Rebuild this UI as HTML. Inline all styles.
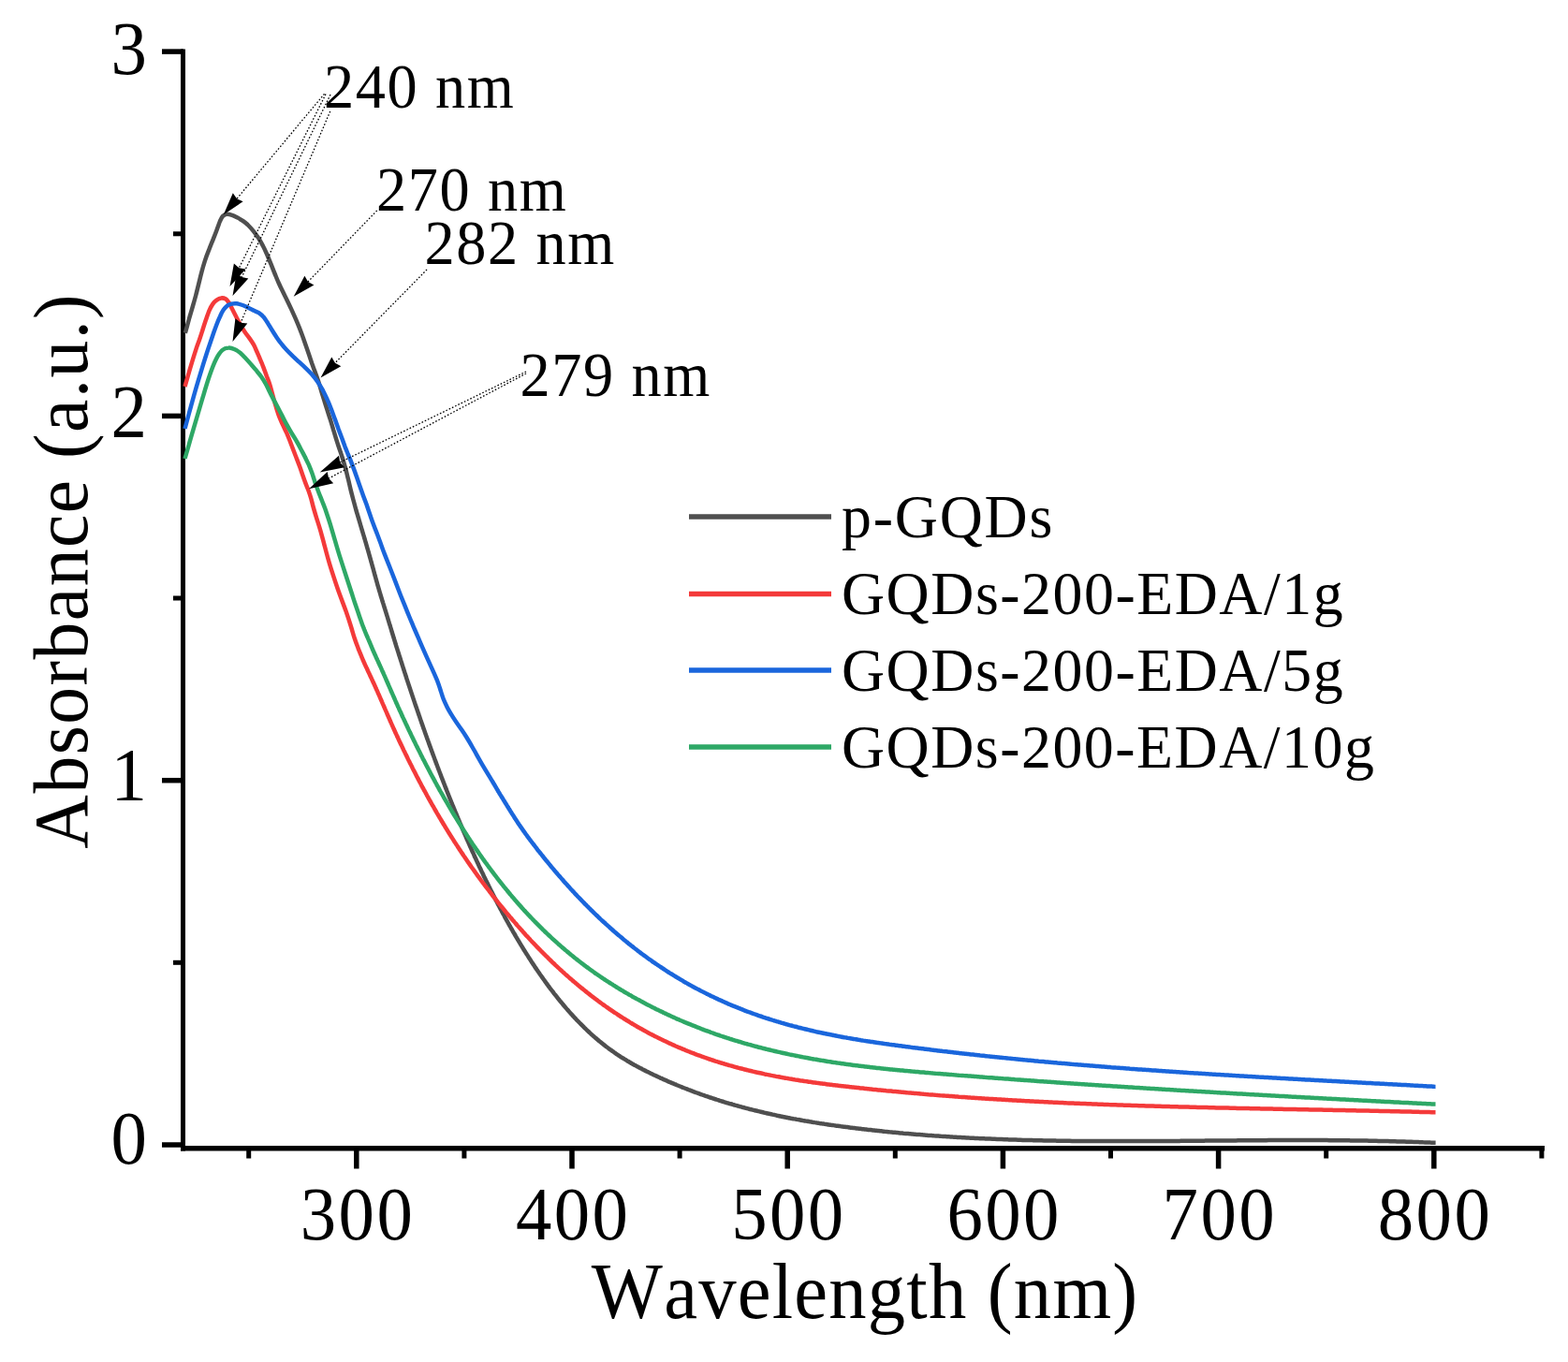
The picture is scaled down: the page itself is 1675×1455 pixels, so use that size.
<!DOCTYPE html>
<html><head><meta charset="utf-8"><title>UV-vis absorbance</title>
<style>
html,body{margin:0;padding:0;background:#fff;width:1675px;height:1455px;overflow:hidden}
svg{display:block}
text{font-family:"Liberation Serif","Times New Roman",serif;font-kerning:none;fill:#000}
.tk{font-size:80px}
.at{font-size:84px}
.ay{font-size:83px}
.lg{font-size:66.5px}
.an{font-size:67px}
.ar{stroke:#000;stroke-width:1.3;stroke-dasharray:1.6 2;fill:none}
</style></head><body>
<svg width="1675" height="1455" viewBox="0 0 1675 1455">
<rect width="1675" height="1455" fill="#fff"/>
<line x1="195.5" y1="52.5" x2="195.5" y2="1229.5" stroke="#000" stroke-width="5"/>
<line x1="193" y1="1226.7" x2="1650" y2="1226.7" stroke="#000" stroke-width="5.5"/>
<line x1="173" y1="1223.0" x2="196" y2="1223.0" stroke="#000" stroke-width="5.5"/>
<line x1="173" y1="833.7" x2="196" y2="833.7" stroke="#000" stroke-width="5.5"/>
<line x1="173" y1="444.4" x2="196" y2="444.4" stroke="#000" stroke-width="5.5"/>
<line x1="173" y1="55.1" x2="196" y2="55.1" stroke="#000" stroke-width="5.5"/>
<line x1="185" y1="1028.3" x2="196" y2="1028.3" stroke="#000" stroke-width="5"/>
<line x1="185" y1="639.0" x2="196" y2="639.0" stroke="#000" stroke-width="5"/>
<line x1="185" y1="249.8" x2="196" y2="249.8" stroke="#000" stroke-width="5"/>
<line x1="380.8" y1="1226" x2="380.8" y2="1248.5" stroke="#000" stroke-width="5.5"/>
<line x1="611.0" y1="1226" x2="611.0" y2="1248.5" stroke="#000" stroke-width="5.5"/>
<line x1="841.2" y1="1226" x2="841.2" y2="1248.5" stroke="#000" stroke-width="5.5"/>
<line x1="1071.4" y1="1226" x2="1071.4" y2="1248.5" stroke="#000" stroke-width="5.5"/>
<line x1="1301.6" y1="1226" x2="1301.6" y2="1248.5" stroke="#000" stroke-width="5.5"/>
<line x1="1531.8" y1="1226" x2="1531.8" y2="1248.5" stroke="#000" stroke-width="5.5"/>
<line x1="265.7" y1="1226" x2="265.7" y2="1237.5" stroke="#000" stroke-width="5"/>
<line x1="495.9" y1="1226" x2="495.9" y2="1237.5" stroke="#000" stroke-width="5"/>
<line x1="726.1" y1="1226" x2="726.1" y2="1237.5" stroke="#000" stroke-width="5"/>
<line x1="956.3" y1="1226" x2="956.3" y2="1237.5" stroke="#000" stroke-width="5"/>
<line x1="1186.5" y1="1226" x2="1186.5" y2="1237.5" stroke="#000" stroke-width="5"/>
<line x1="1416.7" y1="1226" x2="1416.7" y2="1237.5" stroke="#000" stroke-width="5"/>
<line x1="1646.9" y1="1226" x2="1646.9" y2="1237.5" stroke="#000" stroke-width="5"/>
<text transform="translate(157.00,78.50) scale(0.960,1)" text-anchor="end" textLength="41.67" lengthAdjust="spacing" class="tk">3</text>
<text transform="translate(157.00,467.00) scale(0.960,1)" text-anchor="end" textLength="41.67" lengthAdjust="spacing" class="tk">2</text>
<text transform="translate(157.00,855.00) scale(0.960,1)" text-anchor="end" textLength="41.67" lengthAdjust="spacing" class="tk">1</text>
<text transform="translate(157.00,1243.00) scale(0.960,1)" text-anchor="end" textLength="41.67" lengthAdjust="spacing" class="tk">0</text>
<text transform="translate(380.80,1323.50) scale(0.960,1)" text-anchor="middle" textLength="125.00" lengthAdjust="spacing" class="tk">300</text>
<text transform="translate(611.00,1323.50) scale(0.960,1)" text-anchor="middle" textLength="125.00" lengthAdjust="spacing" class="tk">400</text>
<text transform="translate(841.20,1323.50) scale(0.960,1)" text-anchor="middle" textLength="125.00" lengthAdjust="spacing" class="tk">500</text>
<text transform="translate(1071.40,1323.50) scale(0.960,1)" text-anchor="middle" textLength="125.00" lengthAdjust="spacing" class="tk">600</text>
<text transform="translate(1301.60,1323.50) scale(0.960,1)" text-anchor="middle" textLength="125.00" lengthAdjust="spacing" class="tk">700</text>
<text transform="translate(1531.80,1323.50) scale(0.960,1)" text-anchor="middle" textLength="125.00" lengthAdjust="spacing" class="tk">800</text>
<text transform="translate(923.50,1408.00) scale(0.960,1)" text-anchor="middle" textLength="607.68" lengthAdjust="spacing" class="at">Wavelength (nm)</text>
<text transform="translate(93,610.5) rotate(-90) translate(0.00,0.00) scale(0.960,1)" text-anchor="middle" textLength="616.96" lengthAdjust="spacing" class="at ay">Absorbance (a.u.)</text>
<path d="M197.8 355.8 C198.2 354.6 199.1 351.4 199.9 348.4 C200.7 345.5 201.7 341.7 202.7 338.1 C203.8 334.4 205.0 330.3 206.1 326.5 C207.2 322.8 208.2 319.2 209.2 315.5 C210.2 311.7 211.1 307.9 212.1 303.9 C213.1 299.9 214.1 295.6 215.2 291.4 C216.3 287.2 217.5 283.0 218.8 278.9 C220.1 274.8 221.6 270.9 223.2 266.9 C224.7 262.8 226.5 258.6 228.0 254.8 C229.5 251.1 230.9 247.5 232.0 244.4 C233.2 241.4 234.0 238.7 234.9 236.5 C235.9 234.3 236.8 232.2 238.0 230.9 C239.2 229.7 240.7 229.0 242.3 228.8 C244.0 228.6 246.0 229.2 247.9 229.8 C249.8 230.4 251.8 231.5 253.6 232.4 C255.4 233.4 257.1 234.4 258.9 235.6 C260.7 236.9 262.5 238.1 264.5 240.0 C266.4 241.9 268.7 244.3 270.7 246.8 C272.7 249.3 274.8 252.3 276.6 255.0 C278.3 257.8 279.8 260.4 281.2 263.3 C282.7 266.1 284.0 269.1 285.4 272.2 C286.8 275.4 288.1 278.8 289.5 282.2 C290.9 285.6 292.2 289.2 293.6 292.5 C295.0 295.9 296.3 299.2 297.7 302.3 C299.1 305.5 300.5 308.3 302.0 311.3 C303.4 314.3 305.0 317.3 306.5 320.4 C308.0 323.5 309.6 326.8 311.0 329.9 C312.5 333.1 313.9 336.3 315.4 339.6 C316.8 342.9 318.3 346.4 319.7 349.9 C321.1 353.4 322.5 357.3 323.8 360.7 C325.0 364.2 326.1 367.4 327.2 370.5 C328.3 373.6 329.3 376.5 330.3 379.4 C331.3 382.4 332.3 385.4 333.2 388.2 C334.2 390.9 335.1 393.5 336.0 395.9 C336.9 398.4 337.8 400.7 338.7 403.2 C339.6 405.7 340.5 408.3 341.3 411.1 C342.1 413.8 342.9 416.6 343.8 419.6 C344.7 422.5 345.6 425.6 346.6 428.6 C347.5 431.7 348.6 434.8 349.6 438.1 C350.6 441.4 351.8 445.0 352.9 448.4 C354.0 451.9 355.1 455.8 356.1 459.1 C357.2 462.4 358.0 465.5 358.9 468.3 C359.8 471.1 360.5 473.3 361.3 475.8 C362.1 478.3 363.0 480.7 363.9 483.3 C364.7 485.9 365.7 488.6 366.6 491.6 C367.5 494.7 368.4 497.9 369.4 501.4 C370.3 505.0 371.2 509.0 372.2 512.8 C373.1 516.6 374.0 520.7 374.9 524.4 C375.8 528.0 376.8 531.6 377.7 535.0 C378.6 538.4 379.5 541.6 380.4 545.0 C381.4 548.3 382.6 552.4 383.4 555.0 C384.1 557.6 384.6 559.0 385.0 560.5 C385.4 561.9 385.7 562.7 386.0 563.8 C386.3 564.9 386.7 566.0 387.0 567.1 C387.3 568.2 387.7 569.4 388.0 570.5 C388.3 571.6 388.7 572.7 389.0 573.8 C389.3 574.9 389.7 576.0 390.0 577.2 C390.3 578.3 390.7 579.5 391.0 580.6 C391.3 581.8 391.7 582.9 392.0 584.1 C392.3 585.2 392.7 586.4 393.0 587.5 C393.3 588.7 393.7 589.8 394.0 591.0 C394.3 592.2 394.7 593.4 395.0 594.6 C395.3 595.8 395.7 597.0 396.0 598.2 C396.3 599.4 396.7 600.6 397.0 601.8 C397.3 603.0 397.7 604.2 398.0 605.4 C398.3 606.6 398.7 607.8 399.0 609.0 C399.3 610.2 399.7 611.5 400.0 612.7 C400.3 613.9 400.7 615.1 401.0 616.3 C401.3 617.5 401.7 618.7 402.0 619.9 C402.3 621.1 402.7 622.3 403.0 623.5 C403.3 624.7 403.7 625.8 404.0 626.9 C404.3 628.1 404.7 629.2 405.0 630.4 C405.3 631.5 405.7 632.6 406.0 633.8 C406.3 634.9 406.7 636.0 407.0 637.1 C407.3 638.2 407.7 639.2 408.0 640.3 C408.3 641.4 408.7 642.5 409.0 643.6 C409.3 644.6 409.7 645.7 410.0 646.8 C410.3 647.9 410.7 649.0 411.0 650.0 C411.3 651.1 411.7 652.2 412.0 653.2 C412.3 654.3 412.7 655.4 413.0 656.5 C413.3 657.6 413.7 658.6 414.0 659.7 C414.3 660.8 414.7 661.9 415.0 663.0 C415.3 664.1 415.7 665.2 416.0 666.3 C416.3 667.3 416.7 668.4 417.0 669.5 C417.3 670.6 417.7 671.7 418.0 672.8 C418.3 673.9 418.7 675.0 419.0 676.1 C419.3 677.2 419.7 678.3 420.0 679.4 C420.3 680.5 420.7 681.6 421.0 682.7 C421.3 683.7 421.7 684.8 422.0 685.9 C422.3 687.0 422.7 688.1 423.0 689.2 C423.3 690.2 423.5 690.9 424.0 692.4 C424.5 693.9 425.4 696.8 425.9 698.3 C426.3 699.8 426.5 700.4 426.9 701.4 C427.2 702.5 427.5 703.5 427.9 704.6 C428.2 705.6 428.5 706.7 428.9 707.7 C429.2 708.8 429.5 709.8 429.9 710.9 C430.2 711.9 430.5 712.9 430.9 714.0 C431.2 715.0 431.5 716.0 431.9 717.1 C432.2 718.1 432.5 719.1 432.9 720.1 C433.2 721.2 433.5 722.2 433.9 723.2 C434.2 724.2 434.5 725.3 434.9 726.3 C435.2 727.3 435.5 728.3 435.9 729.3 C436.2 730.3 436.5 731.4 436.9 732.4 C437.2 733.4 437.5 734.4 437.9 735.4 C438.2 736.4 438.5 737.4 438.9 738.4 C439.2 739.4 439.5 740.4 439.9 741.4 C440.2 742.4 440.5 743.4 440.9 744.4 C441.2 745.4 441.5 746.4 441.9 747.4 C442.2 748.3 442.5 749.3 442.9 750.3 C443.2 751.3 443.5 752.3 443.9 753.3 C444.2 754.2 444.5 755.2 444.9 756.2 C445.2 757.2 445.5 758.1 445.9 759.1 C446.2 760.1 446.5 761.1 446.9 762.0 C447.2 763.0 447.5 764.0 447.9 764.9 C448.2 765.9 448.5 766.9 448.9 767.8 C449.2 768.8 449.5 769.7 449.9 770.7 C450.2 771.6 450.5 772.6 450.9 773.5 C451.2 774.5 451.5 775.4 451.9 776.4 C452.2 777.3 452.5 778.3 452.9 779.2 C453.2 780.2 453.5 781.1 453.9 782.1 C454.2 783.0 454.5 783.9 454.9 784.9 C455.2 785.8 455.5 786.7 455.9 787.7 C456.2 788.6 456.5 789.5 456.9 790.4 C457.2 791.4 457.5 792.3 457.9 793.2 C458.2 794.1 458.5 795.1 458.9 796.0 C459.2 796.9 459.5 797.8 459.9 798.7 C460.2 799.7 460.5 800.6 460.9 801.5 C461.2 802.4 461.5 803.3 461.9 804.2 C462.2 805.1 462.5 806.0 462.9 806.9 C463.2 807.8 463.5 808.7 463.9 809.6 C464.2 810.5 464.5 811.4 464.9 812.3 C465.2 813.2 465.5 814.1 465.9 815.0 C466.2 815.9 466.5 816.8 466.9 817.6 C467.2 818.5 467.5 819.4 467.9 820.3 C468.2 821.2 468.5 822.1 468.9 822.9 C469.2 823.8 469.5 824.7 469.9 825.6 C470.2 826.4 470.5 827.3 470.9 828.2 C471.2 829.1 471.5 829.9 471.9 830.8 C472.2 831.7 472.5 832.5 472.9 833.4 C473.2 834.2 473.5 835.1 473.9 836.0 C474.2 836.8 474.5 837.7 474.9 838.5 C475.2 839.4 475.5 840.2 475.9 841.1 C476.2 841.9 476.5 842.8 476.9 843.6 C477.2 844.5 477.5 845.3 477.9 846.2 C478.2 847.0 478.5 847.8 478.9 848.7 C479.2 849.5 479.5 850.4 479.9 851.2 C480.2 852.0 480.5 852.9 480.9 853.7 C481.2 854.5 481.5 855.3 481.9 856.2 C482.2 857.0 482.5 857.8 482.9 858.6 C483.2 859.5 483.5 860.3 483.9 861.1 C484.2 861.9 484.5 862.7 484.9 863.6 C485.2 864.4 485.5 865.2 485.9 866.0 C486.2 866.8 486.5 867.6 486.9 868.4 C487.2 869.2 487.5 870.0 487.9 870.8 C488.2 871.6 488.5 872.4 488.9 873.2 C489.2 874.0 489.5 874.8 489.9 875.6 C490.2 876.4 490.5 877.2 490.9 878.0 C491.2 878.8 491.5 879.6 491.9 880.4 C492.2 881.2 492.5 881.9 492.9 882.7 C493.2 883.5 493.5 884.3 493.9 885.1 C494.2 885.9 494.5 886.6 494.9 887.4 C495.2 888.2 495.5 889.0 495.9 889.7 C496.2 890.5 496.5 891.3 496.9 892.0 C497.2 892.8 497.5 893.5 497.9 894.3 C498.2 895.2 498.7 896.2 499.1 897.2 C499.5 898.1 499.9 899.1 500.4 900.0 C500.8 901.0 501.2 901.9 501.6 902.9 C502.0 903.8 502.4 904.7 502.9 905.7 C503.3 906.6 503.7 907.5 504.1 908.4 C504.5 909.4 504.9 910.3 505.4 911.2 C505.8 912.1 506.2 913.0 506.6 914.0 C507.0 914.9 507.4 915.8 507.9 916.7 C508.3 917.6 508.7 918.5 509.1 919.4 C509.5 920.3 509.9 921.2 510.4 922.1 C510.8 923.0 511.2 923.9 511.6 924.8 C512.0 925.7 512.4 926.5 512.9 927.4 C513.3 928.3 513.7 929.2 514.1 930.1 C514.5 931.0 514.9 931.8 515.4 932.7 C515.8 933.6 516.2 934.4 516.6 935.3 C517.0 936.2 517.4 937.0 517.9 937.9 C518.3 938.8 518.7 939.6 519.1 940.5 C519.5 941.3 519.9 942.2 520.4 943.0 C520.8 943.9 521.2 944.7 521.6 945.6 C522.0 946.4 522.4 947.2 522.9 948.1 C523.3 948.9 523.7 949.8 524.1 950.6 C524.5 951.4 524.9 952.2 525.4 953.1 C525.8 953.9 526.2 954.7 526.6 955.5 C527.0 956.4 527.4 957.2 527.9 958.0 C528.3 958.8 528.7 959.6 529.1 960.4 C529.5 961.2 529.9 962.0 530.4 962.8 C530.8 963.6 531.2 964.4 531.6 965.2 C532.0 966.0 532.4 966.8 532.9 967.6 C533.3 968.4 533.7 969.2 534.1 970.0 C534.5 970.8 534.9 971.6 535.4 972.3 C535.8 973.1 536.2 973.9 536.6 974.7 C537.0 975.4 537.4 976.2 537.9 977.0 C538.3 977.7 538.7 978.5 539.1 979.3 C539.5 980.0 539.9 980.8 540.4 981.6 C540.8 982.3 541.2 983.1 541.6 983.8 C542.0 984.6 542.4 985.3 542.9 986.1 C543.3 986.8 543.7 987.6 544.1 988.3 C544.5 989.0 544.9 989.8 545.4 990.5 C545.8 991.2 546.2 992.0 546.6 992.7 C547.0 993.4 547.4 994.1 547.9 994.9 C548.3 995.7 548.9 996.6 549.4 997.5 C549.9 998.3 550.4 999.2 550.9 1000.1 C551.4 1000.9 551.9 1001.8 552.4 1002.6 C552.9 1003.4 553.4 1004.3 553.9 1005.1 C554.4 1006.0 554.9 1006.8 555.4 1007.6 C555.9 1008.4 556.4 1009.3 556.9 1010.1 C557.4 1010.9 557.9 1011.7 558.4 1012.5 C558.9 1013.4 559.4 1014.2 559.9 1015.0 C560.4 1015.8 560.9 1016.6 561.4 1017.4 C561.9 1018.2 562.4 1019.0 562.9 1019.8 C563.4 1020.5 563.9 1021.3 564.4 1022.1 C564.9 1022.9 565.4 1023.7 565.9 1024.4 C566.4 1025.2 566.9 1026.0 567.4 1026.8 C567.9 1027.5 568.4 1028.3 568.9 1029.0 C569.4 1029.8 569.9 1030.6 570.4 1031.3 C570.9 1032.1 571.4 1032.8 571.9 1033.6 C572.4 1034.3 572.9 1035.0 573.4 1035.8 C573.9 1036.5 574.4 1037.2 574.9 1038.0 C575.4 1038.7 575.9 1039.4 576.4 1040.1 C576.9 1040.9 577.4 1041.6 577.9 1042.3 C578.4 1043.0 578.9 1043.7 579.4 1044.4 C579.9 1045.1 580.4 1045.8 580.9 1046.5 C581.4 1047.2 581.9 1047.9 582.4 1048.6 C582.9 1049.3 583.4 1050.0 583.9 1050.7 C584.4 1051.3 584.9 1052.0 585.4 1052.7 C585.9 1053.4 586.3 1054.0 586.9 1054.7 C587.4 1055.4 588.0 1056.3 588.6 1057.0 C589.2 1057.8 589.8 1058.6 590.4 1059.3 C590.9 1060.1 591.5 1060.8 592.1 1061.6 C592.7 1062.3 593.3 1063.1 593.9 1063.8 C594.4 1064.5 595.0 1065.3 595.6 1066.0 C596.2 1066.7 596.8 1067.5 597.4 1068.2 C597.9 1068.9 598.5 1069.6 599.1 1070.3 C599.7 1071.0 600.3 1071.7 600.9 1072.4 C601.4 1073.1 602.0 1073.8 602.6 1074.5 C603.2 1075.2 603.8 1075.9 604.4 1076.6 C604.9 1077.2 605.5 1077.9 606.1 1078.6 C606.7 1079.2 607.3 1079.9 607.9 1080.6 C608.4 1081.2 609.0 1081.9 609.6 1082.5 C610.2 1083.2 610.8 1083.8 611.4 1084.5 C611.9 1085.1 612.5 1085.7 613.1 1086.4 C613.7 1087.0 614.3 1087.6 614.9 1088.2 C615.4 1088.9 616.0 1089.5 616.6 1090.1 C617.2 1090.7 617.8 1091.3 618.4 1091.9 C618.9 1092.5 619.5 1093.1 620.1 1093.7 C620.7 1094.3 621.4 1095.0 622.1 1095.7 C622.8 1096.4 623.4 1097.0 624.1 1097.7 C624.8 1098.3 625.4 1099.0 626.1 1099.6 C626.8 1100.2 627.4 1100.9 628.1 1101.5 C628.8 1102.1 629.4 1102.7 630.1 1103.4 C630.8 1104.0 631.4 1104.6 632.1 1105.2 C632.8 1105.8 633.4 1106.4 634.1 1107.0 C634.8 1107.6 635.4 1108.1 636.1 1108.7 C636.8 1109.3 637.4 1109.9 638.1 1110.4 C638.8 1111.0 639.4 1111.6 640.1 1112.1 C640.8 1112.7 641.4 1113.2 642.1 1113.7 C642.8 1114.3 643.4 1114.8 644.1 1115.4 C644.8 1115.9 645.4 1116.4 646.1 1116.9 C646.8 1117.4 647.4 1118.0 648.1 1118.5 C648.8 1119.0 649.4 1119.4 650.1 1120.0 C650.8 1120.5 651.6 1121.1 652.4 1121.6 C653.1 1122.1 653.9 1122.7 654.6 1123.2 C655.4 1123.7 656.1 1124.3 656.9 1124.8 C657.6 1125.3 658.4 1125.8 659.1 1126.3 C659.9 1126.8 660.6 1127.3 661.4 1127.8 C662.1 1128.3 662.9 1128.8 663.6 1129.3 C664.4 1129.8 665.1 1130.2 665.9 1130.7 C666.6 1131.2 667.4 1131.6 668.1 1132.1 C668.9 1132.5 669.6 1133.0 670.4 1133.5 C671.1 1133.9 671.9 1134.3 672.6 1134.8 C673.4 1135.2 674.1 1135.7 674.9 1136.1 C675.6 1136.5 676.4 1136.9 677.1 1137.4 C677.9 1137.8 678.6 1138.2 679.4 1138.6 C680.1 1139.0 680.9 1139.4 681.6 1139.8 C682.4 1140.2 683.1 1140.6 683.9 1141.0 C684.6 1141.4 685.4 1141.8 686.1 1142.2 C686.9 1142.6 687.6 1143.0 688.4 1143.4 C689.1 1143.7 689.9 1144.1 690.6 1144.5 C691.4 1144.9 692.1 1145.2 692.9 1145.6 C693.6 1146.0 694.3 1146.3 695.1 1146.7 C695.9 1147.1 696.8 1147.5 697.6 1147.9 C698.4 1148.3 699.3 1148.7 700.1 1149.1 C700.9 1149.5 701.8 1149.9 702.6 1150.2 C703.4 1150.6 704.3 1151.0 705.1 1151.4 C705.9 1151.8 706.8 1152.1 707.6 1152.5 C708.4 1152.9 709.3 1153.3 710.1 1153.6 C710.9 1154.0 711.8 1154.4 712.6 1154.7 C713.4 1155.1 714.3 1155.5 715.1 1155.8 C715.9 1156.2 716.8 1156.5 717.6 1156.9 C718.4 1157.2 719.3 1157.6 720.1 1157.9 C720.9 1158.3 721.8 1158.6 722.6 1159.0 C723.4 1159.3 724.3 1159.7 725.1 1160.0 C725.9 1160.3 726.8 1160.7 727.6 1161.0 C728.4 1161.4 729.3 1161.7 730.1 1162.0 C730.9 1162.3 731.8 1162.7 732.6 1163.0 C733.4 1163.3 734.3 1163.6 735.1 1164.0 C735.9 1164.3 736.8 1164.6 737.6 1164.9 C738.4 1165.2 739.3 1165.6 740.1 1165.9 C740.9 1166.2 741.8 1166.5 742.6 1166.8 C743.4 1167.1 744.3 1167.4 745.1 1167.7 C745.9 1168.0 746.8 1168.3 747.6 1168.6 C748.4 1168.9 749.3 1169.2 750.1 1169.5 C750.9 1169.8 751.8 1170.1 752.6 1170.4 C753.4 1170.7 754.3 1170.9 755.1 1171.2 C755.9 1171.5 756.8 1171.8 757.6 1172.1 C758.4 1172.4 759.3 1172.6 760.1 1172.9 C760.9 1173.2 761.8 1173.5 762.6 1173.7 C763.4 1174.0 764.3 1174.3 765.1 1174.5 C765.9 1174.8 766.8 1175.1 767.6 1175.3 C768.4 1175.6 769.3 1175.9 770.1 1176.1 C770.9 1176.4 771.8 1176.6 772.6 1176.9 C773.4 1177.2 774.3 1177.4 775.1 1177.7 C775.9 1177.9 776.8 1178.2 777.6 1178.4 C778.4 1178.7 779.3 1178.9 780.1 1179.2 C780.9 1179.4 781.8 1179.6 782.6 1179.9 C783.4 1180.1 784.3 1180.4 785.1 1180.6 C785.9 1180.8 786.8 1181.1 787.6 1181.3 C788.4 1181.5 789.3 1181.8 790.1 1182.0 C790.9 1182.2 791.8 1182.4 792.6 1182.7 C793.4 1182.9 794.3 1183.1 795.1 1183.3 C795.9 1183.6 796.8 1183.8 797.6 1184.0 C798.4 1184.2 799.3 1184.4 800.1 1184.7 C800.9 1184.9 801.8 1185.1 802.6 1185.3 C803.4 1185.5 804.3 1185.7 805.1 1185.9 C805.9 1186.1 806.8 1186.3 807.6 1186.5 C808.4 1186.7 809.3 1186.9 810.1 1187.1 C810.9 1187.3 811.8 1187.5 812.6 1187.7 C813.4 1187.9 814.3 1188.1 815.1 1188.3 C815.9 1188.5 816.8 1188.7 817.6 1188.9 C818.4 1189.1 819.3 1189.3 820.1 1189.5 C820.9 1189.7 821.8 1189.9 822.6 1190.0 C823.4 1190.2 824.3 1190.4 825.1 1190.6 C825.9 1190.8 826.8 1191.0 827.6 1191.1 C828.4 1191.3 829.3 1191.5 830.1 1191.7 C830.9 1191.8 831.8 1192.0 832.6 1192.2 C833.4 1192.4 834.3 1192.5 835.1 1192.7 C835.9 1192.9 836.8 1193.0 837.6 1193.2 C838.4 1193.4 839.3 1193.5 840.1 1193.7 C840.9 1193.9 841.8 1194.0 842.6 1194.2 C843.4 1194.4 844.3 1194.5 845.1 1194.7 C845.9 1194.8 846.8 1195.0 847.6 1195.2 C848.4 1195.3 849.3 1195.5 850.1 1195.6 C850.9 1195.8 851.8 1195.9 852.6 1196.1 C853.4 1196.2 854.3 1196.4 855.1 1196.5 C855.9 1196.7 856.8 1196.8 857.6 1197.0 C858.4 1197.1 859.3 1197.3 860.1 1197.4 C860.9 1197.6 861.8 1197.7 862.6 1197.8 C863.4 1198.0 864.3 1198.1 865.1 1198.3 C865.9 1198.4 866.8 1198.5 867.6 1198.7 C868.4 1198.8 869.3 1198.9 870.1 1199.1 C870.9 1199.2 871.8 1199.3 872.6 1199.5 C873.4 1199.6 874.3 1199.7 875.1 1199.9 C875.9 1200.0 876.8 1200.1 877.6 1200.3 C878.4 1200.4 879.3 1200.5 880.1 1200.6 C880.9 1200.8 881.8 1200.9 882.6 1201.0 C883.4 1201.1 884.3 1201.3 885.1 1201.4 C885.9 1201.5 886.8 1201.6 887.6 1201.8 C888.4 1201.9 889.3 1202.0 890.1 1202.1 C890.9 1202.2 891.8 1202.3 892.6 1202.5 C893.4 1202.6 894.3 1202.7 895.1 1202.8 C895.9 1202.9 896.8 1203.0 897.6 1203.1 C898.4 1203.3 899.3 1203.4 900.1 1203.5 C900.9 1203.6 901.8 1203.7 902.6 1203.8 C903.4 1203.9 904.3 1204.0 905.1 1204.1 C905.9 1204.2 906.8 1204.4 907.6 1204.5 C908.4 1204.6 909.3 1204.7 910.1 1204.8 C910.9 1204.9 911.8 1205.0 912.6 1205.1 C913.4 1205.2 914.3 1205.3 915.1 1205.4 C915.9 1205.5 916.8 1205.6 917.6 1205.7 C918.4 1205.8 919.3 1205.9 920.1 1206.0 C920.9 1206.1 921.8 1206.2 922.6 1206.3 C923.4 1206.4 924.3 1206.5 925.1 1206.6 C925.9 1206.7 926.8 1206.8 927.6 1206.9 C928.4 1207.0 929.3 1207.1 930.1 1207.1 C930.9 1207.2 931.8 1207.3 932.6 1207.4 C933.4 1207.5 934.3 1207.6 935.1 1207.7 C935.9 1207.8 936.8 1207.9 937.6 1208.0 C938.4 1208.1 939.3 1208.1 940.1 1208.2 C940.9 1208.3 941.8 1208.4 942.6 1208.5 C943.4 1208.6 944.3 1208.7 945.1 1208.8 C945.9 1208.8 946.8 1208.9 947.6 1209.0 C948.4 1209.1 949.3 1209.2 950.1 1209.3 C950.9 1209.3 951.8 1209.4 952.6 1209.5 C953.4 1209.6 954.3 1209.7 955.1 1209.7 C955.9 1209.8 956.8 1209.9 957.6 1210.0 C958.4 1210.1 959.3 1210.1 960.1 1210.2 C960.9 1210.3 961.8 1210.4 962.6 1210.4 C963.4 1210.5 964.3 1210.6 965.1 1210.7 C965.9 1210.7 966.8 1210.8 967.6 1210.9 C968.4 1211.0 969.3 1211.0 970.1 1211.1 C970.9 1211.2 971.8 1211.3 972.6 1211.3 C973.4 1211.4 974.3 1211.5 975.1 1211.5 C975.9 1211.6 976.8 1211.7 977.6 1211.7 C978.4 1211.8 979.3 1211.9 980.1 1211.9 C980.9 1212.0 981.8 1212.1 982.6 1212.1 C983.4 1212.2 984.3 1212.3 985.1 1212.3 C985.9 1212.4 986.8 1212.5 987.6 1212.5 C988.4 1212.6 989.3 1212.7 990.1 1212.7 C990.9 1212.8 991.8 1212.9 992.6 1212.9 C993.4 1213.0 994.3 1213.0 995.1 1213.1 C995.9 1213.2 996.8 1213.2 997.6 1213.3 C998.4 1213.3 999.3 1213.4 1000.1 1213.5 C1000.9 1213.5 1001.8 1213.6 1002.6 1213.6 C1003.4 1213.7 1004.3 1213.7 1005.1 1213.8 C1005.9 1213.8 1006.8 1213.9 1007.6 1214.0 C1008.4 1214.0 1009.3 1214.1 1010.1 1214.1 C1010.9 1214.2 1011.8 1214.2 1012.6 1214.3 C1013.4 1214.3 1014.3 1214.4 1015.1 1214.4 C1015.9 1214.5 1016.8 1214.5 1017.6 1214.6 C1018.4 1214.6 1019.3 1214.7 1020.1 1214.7 C1020.9 1214.8 1021.8 1214.8 1022.6 1214.9 C1023.4 1214.9 1024.3 1215.0 1025.1 1215.0 C1025.9 1215.1 1026.8 1215.1 1027.6 1215.2 C1028.4 1215.2 1029.3 1215.3 1030.1 1215.3 C1030.9 1215.4 1031.8 1215.4 1032.6 1215.4 C1033.4 1215.5 1034.3 1215.5 1035.1 1215.6 C1035.9 1215.6 1036.8 1215.7 1037.6 1215.7 C1038.4 1215.8 1039.3 1215.8 1040.1 1215.8 C1040.9 1215.9 1041.8 1215.9 1042.6 1216.0 C1043.4 1216.0 1044.3 1216.0 1045.1 1216.1 C1045.9 1216.1 1046.8 1216.2 1047.6 1216.2 C1048.4 1216.2 1049.3 1216.3 1050.1 1216.3 C1050.9 1216.3 1051.8 1216.4 1052.6 1216.4 C1053.4 1216.5 1054.3 1216.5 1055.1 1216.5 C1055.9 1216.6 1056.8 1216.6 1057.6 1216.6 C1058.4 1216.7 1059.3 1216.7 1060.1 1216.7 C1060.9 1216.8 1061.8 1216.8 1062.6 1216.8 C1063.4 1216.9 1064.3 1216.9 1065.1 1216.9 C1065.9 1217.0 1066.8 1217.0 1067.6 1217.0 C1068.4 1217.1 1069.3 1217.1 1070.1 1217.1 C1070.9 1217.2 1071.8 1217.2 1072.6 1217.2 C1073.4 1217.2 1074.3 1217.3 1075.1 1217.3 C1075.9 1217.3 1076.8 1217.4 1077.6 1217.4 C1078.4 1217.4 1079.3 1217.4 1080.1 1217.5 C1080.9 1217.5 1081.8 1217.5 1082.6 1217.6 C1083.4 1217.6 1084.3 1217.6 1085.1 1217.6 C1085.9 1217.7 1086.8 1217.7 1087.6 1217.7 C1088.4 1217.7 1089.3 1217.8 1090.1 1217.8 C1090.9 1217.8 1091.8 1217.8 1092.6 1217.9 C1093.4 1217.9 1094.3 1217.9 1095.1 1217.9 C1095.9 1217.9 1096.8 1218.0 1097.6 1218.0 C1098.4 1218.0 1099.3 1218.0 1100.1 1218.1 C1100.9 1218.1 1101.8 1218.1 1102.6 1218.1 C1103.4 1218.1 1104.3 1218.2 1105.1 1218.2 C1105.9 1218.2 1106.8 1218.2 1107.6 1218.2 C1108.4 1218.3 1109.3 1218.3 1110.1 1218.3 C1110.9 1218.3 1111.8 1218.3 1112.6 1218.3 C1113.4 1218.4 1114.3 1218.4 1115.1 1218.4 C1115.9 1218.4 1116.8 1218.4 1117.6 1218.4 C1118.4 1218.5 1119.3 1218.5 1120.1 1218.5 C1120.9 1218.5 1121.8 1218.5 1122.6 1218.5 C1123.4 1218.6 1124.3 1218.6 1125.1 1218.6 C1125.9 1218.6 1126.8 1218.6 1127.6 1218.6 C1128.4 1218.6 1129.3 1218.7 1130.1 1218.7 C1130.9 1218.7 1131.8 1218.7 1132.6 1218.7 C1133.4 1218.7 1134.3 1218.7 1135.1 1218.7 C1135.9 1218.8 1136.8 1218.8 1137.6 1218.8 C1138.4 1218.8 1139.3 1218.8 1140.1 1218.8 C1140.9 1218.8 1141.8 1218.8 1142.6 1218.8 C1143.4 1218.9 1144.3 1218.9 1145.1 1218.9 C1145.9 1218.9 1146.8 1218.9 1147.6 1218.9 C1148.4 1218.9 1149.3 1218.9 1150.1 1218.9 C1150.9 1218.9 1151.8 1218.9 1152.6 1218.9 C1153.4 1219.0 1154.3 1219.0 1155.1 1219.0 C1155.9 1219.0 1156.8 1219.0 1157.6 1219.0 C1158.4 1219.0 1159.3 1219.0 1160.1 1219.0 C1160.9 1219.0 1161.8 1219.0 1162.6 1219.0 C1163.4 1219.0 1164.3 1219.0 1165.1 1219.0 C1165.9 1219.1 1166.8 1219.1 1167.6 1219.1 C1168.4 1219.1 1169.3 1219.1 1170.1 1219.1 C1170.9 1219.1 1171.8 1219.1 1172.6 1219.1 C1173.4 1219.1 1174.3 1219.1 1175.1 1219.1 C1175.9 1219.1 1176.8 1219.1 1177.6 1219.1 C1178.4 1219.1 1179.3 1219.1 1180.1 1219.1 C1180.9 1219.1 1181.8 1219.1 1182.6 1219.1 C1183.4 1219.1 1184.3 1219.1 1185.1 1219.1 C1185.9 1219.1 1186.8 1219.1 1187.6 1219.1 C1188.4 1219.1 1189.3 1219.1 1190.1 1219.1 C1190.9 1219.1 1191.8 1219.1 1192.6 1219.1 C1193.4 1219.1 1194.3 1219.1 1195.1 1219.1 C1195.9 1219.1 1196.8 1219.1 1197.6 1219.1 C1198.4 1219.1 1199.3 1219.1 1200.1 1219.1 C1200.9 1219.1 1201.8 1219.1 1202.6 1219.1 C1203.4 1219.1 1204.3 1219.1 1205.1 1219.1 C1205.9 1219.1 1206.8 1219.1 1207.6 1219.1 C1208.4 1219.1 1209.3 1219.1 1210.1 1219.1 C1210.9 1219.1 1211.8 1219.1 1212.6 1219.1 C1213.4 1219.1 1214.3 1219.1 1215.1 1219.1 C1215.9 1219.1 1216.8 1219.1 1217.6 1219.1 C1218.4 1219.1 1219.3 1219.1 1220.1 1219.1 C1220.9 1219.1 1221.8 1219.1 1222.6 1219.1 C1223.4 1219.1 1224.3 1219.1 1225.1 1219.1 C1225.9 1219.1 1226.8 1219.1 1227.6 1219.1 C1228.4 1219.1 1229.3 1219.1 1230.1 1219.1 C1230.9 1219.0 1231.8 1219.0 1232.6 1219.0 C1233.4 1219.0 1234.3 1219.0 1235.1 1219.0 C1235.9 1219.0 1236.8 1219.0 1237.6 1219.0 C1238.4 1219.0 1239.3 1219.0 1240.1 1219.0 C1240.9 1219.0 1241.8 1219.0 1242.6 1219.0 C1243.4 1219.0 1244.3 1219.0 1245.1 1219.0 C1245.9 1219.0 1246.8 1219.0 1247.6 1218.9 C1248.4 1218.9 1249.3 1218.9 1250.1 1218.9 C1250.9 1218.9 1251.8 1218.9 1252.6 1218.9 C1253.4 1218.9 1254.3 1218.9 1255.1 1218.9 C1255.9 1218.9 1256.8 1218.9 1257.6 1218.9 C1258.4 1218.9 1259.3 1218.9 1260.1 1218.9 C1260.9 1218.9 1261.8 1218.8 1262.6 1218.8 C1263.4 1218.8 1264.3 1218.8 1265.1 1218.8 C1265.9 1218.8 1266.8 1218.8 1267.6 1218.8 C1268.4 1218.8 1269.3 1218.8 1270.1 1218.8 C1270.9 1218.8 1271.8 1218.8 1272.6 1218.8 C1273.4 1218.8 1274.3 1218.7 1275.1 1218.7 C1275.9 1218.7 1276.8 1218.7 1277.6 1218.7 C1278.4 1218.7 1279.3 1218.7 1280.1 1218.7 C1280.9 1218.7 1281.8 1218.7 1282.6 1218.7 C1283.4 1218.7 1284.3 1218.7 1285.1 1218.7 C1285.9 1218.7 1286.8 1218.6 1287.6 1218.6 C1288.4 1218.6 1289.3 1218.6 1290.1 1218.6 C1290.9 1218.6 1291.8 1218.6 1292.6 1218.6 C1293.4 1218.6 1294.3 1218.6 1295.1 1218.6 C1295.9 1218.6 1296.8 1218.6 1297.6 1218.6 C1298.4 1218.5 1299.3 1218.5 1300.1 1218.5 C1300.9 1218.5 1301.8 1218.5 1302.6 1218.5 C1303.4 1218.5 1304.3 1218.5 1305.1 1218.5 C1305.9 1218.5 1306.8 1218.5 1307.6 1218.5 C1308.4 1218.5 1309.3 1218.5 1310.1 1218.4 C1310.9 1218.4 1311.8 1218.4 1312.6 1218.4 C1313.4 1218.4 1314.3 1218.4 1315.1 1218.4 C1315.9 1218.4 1316.8 1218.4 1317.6 1218.4 C1318.4 1218.4 1319.3 1218.4 1320.1 1218.4 C1320.9 1218.4 1321.8 1218.4 1322.6 1218.3 C1323.4 1218.3 1324.3 1218.3 1325.1 1218.3 C1325.9 1218.3 1326.8 1218.3 1327.6 1218.3 C1328.4 1218.3 1329.3 1218.3 1330.1 1218.3 C1330.9 1218.3 1331.8 1218.3 1332.6 1218.3 C1333.4 1218.3 1334.3 1218.3 1335.1 1218.3 C1335.9 1218.3 1336.8 1218.2 1337.6 1218.2 C1338.4 1218.2 1339.3 1218.2 1340.1 1218.2 C1340.9 1218.2 1341.8 1218.2 1342.6 1218.2 C1343.4 1218.2 1344.3 1218.2 1345.1 1218.2 C1345.9 1218.2 1346.8 1218.2 1347.6 1218.2 C1348.4 1218.2 1349.3 1218.2 1350.1 1218.2 C1350.9 1218.2 1351.8 1218.2 1352.6 1218.2 C1353.4 1218.1 1354.3 1218.1 1355.1 1218.1 C1355.9 1218.1 1356.8 1218.1 1357.6 1218.1 C1358.4 1218.1 1359.3 1218.1 1360.1 1218.1 C1360.9 1218.1 1361.8 1218.1 1362.6 1218.1 C1363.4 1218.1 1364.3 1218.1 1365.1 1218.1 C1365.9 1218.1 1366.8 1218.1 1367.6 1218.1 C1368.4 1218.1 1369.3 1218.1 1370.1 1218.1 C1370.9 1218.1 1371.8 1218.1 1372.6 1218.1 C1373.4 1218.1 1374.3 1218.1 1375.1 1218.1 C1375.9 1218.1 1376.8 1218.1 1377.6 1218.1 C1378.4 1218.1 1379.3 1218.1 1380.1 1218.1 C1380.9 1218.1 1381.8 1218.1 1382.6 1218.1 C1383.4 1218.1 1384.3 1218.1 1385.1 1218.1 C1385.9 1218.1 1386.8 1218.1 1387.6 1218.1 C1388.4 1218.1 1389.3 1218.1 1390.1 1218.1 C1390.9 1218.1 1391.8 1218.1 1392.6 1218.1 C1393.4 1218.1 1394.3 1218.1 1395.1 1218.1 C1395.9 1218.1 1396.8 1218.1 1397.6 1218.1 C1398.4 1218.1 1399.3 1218.1 1400.1 1218.1 C1400.9 1218.1 1401.8 1218.1 1402.6 1218.1 C1403.4 1218.1 1404.3 1218.1 1405.1 1218.1 C1405.9 1218.1 1406.8 1218.1 1407.6 1218.1 C1408.4 1218.1 1409.3 1218.1 1410.1 1218.1 C1410.9 1218.1 1411.8 1218.1 1412.6 1218.1 C1413.4 1218.1 1414.3 1218.1 1415.1 1218.1 C1415.9 1218.1 1416.8 1218.1 1417.6 1218.1 C1418.4 1218.1 1419.3 1218.1 1420.1 1218.2 C1420.9 1218.2 1421.8 1218.2 1422.6 1218.2 C1423.4 1218.2 1424.3 1218.2 1425.1 1218.2 C1425.9 1218.2 1426.8 1218.2 1427.6 1218.2 C1428.4 1218.2 1429.3 1218.2 1430.1 1218.2 C1430.9 1218.2 1431.8 1218.2 1432.6 1218.3 C1433.4 1218.3 1434.3 1218.3 1435.1 1218.3 C1435.9 1218.3 1436.8 1218.3 1437.6 1218.3 C1438.4 1218.3 1439.3 1218.3 1440.1 1218.3 C1440.9 1218.3 1441.8 1218.4 1442.6 1218.4 C1443.4 1218.4 1444.3 1218.4 1445.1 1218.4 C1445.9 1218.4 1446.8 1218.4 1447.6 1218.4 C1448.4 1218.4 1449.3 1218.4 1450.1 1218.5 C1450.9 1218.5 1451.8 1218.5 1452.6 1218.5 C1453.4 1218.5 1454.3 1218.5 1455.1 1218.5 C1455.9 1218.5 1456.8 1218.6 1457.6 1218.6 C1458.4 1218.6 1459.3 1218.6 1460.1 1218.6 C1460.9 1218.6 1461.8 1218.6 1462.6 1218.7 C1463.4 1218.7 1464.3 1218.7 1465.1 1218.7 C1465.9 1218.7 1466.8 1218.7 1467.6 1218.8 C1468.4 1218.8 1469.3 1218.8 1470.1 1218.8 C1470.9 1218.8 1471.8 1218.8 1472.6 1218.9 C1473.4 1218.9 1474.3 1218.9 1475.1 1218.9 C1475.9 1218.9 1476.8 1219.0 1477.6 1219.0 C1478.4 1219.0 1479.3 1219.0 1480.1 1219.0 C1480.9 1219.1 1481.8 1219.1 1482.6 1219.1 C1483.4 1219.1 1484.3 1219.1 1485.1 1219.2 C1485.9 1219.2 1486.8 1219.2 1487.6 1219.2 C1488.4 1219.2 1489.3 1219.3 1490.1 1219.3 C1490.9 1219.3 1491.8 1219.3 1492.6 1219.4 C1493.4 1219.4 1494.3 1219.4 1495.1 1219.4 C1495.9 1219.5 1496.8 1219.5 1497.6 1219.5 C1498.4 1219.5 1499.3 1219.6 1500.1 1219.6 C1500.9 1219.6 1501.8 1219.6 1502.6 1219.7 C1503.4 1219.7 1504.3 1219.7 1505.1 1219.7 C1505.9 1219.8 1506.8 1219.8 1507.6 1219.8 C1508.4 1219.9 1509.3 1219.9 1510.1 1219.9 C1510.9 1219.9 1511.8 1220.0 1512.6 1220.0 C1513.4 1220.0 1514.3 1220.1 1515.1 1220.1 C1515.9 1220.1 1516.8 1220.2 1517.6 1220.2 C1518.4 1220.2 1519.3 1220.2 1520.1 1220.3 C1520.9 1220.3 1521.8 1220.3 1522.6 1220.4 C1523.4 1220.4 1524.3 1220.4 1525.1 1220.5 C1525.9 1220.5 1526.8 1220.6 1527.6 1220.6 C1528.4 1220.6 1529.3 1220.7 1530.1 1220.7 C1530.9 1220.7 1532.0 1220.8 1532.6 1220.8 C1533.2 1220.8 1533.4 1220.8 1533.6 1220.8" fill="none" stroke="#4f4f4f" stroke-width="4.5" stroke-linejoin="round"/>
<path d="M197.5 413.0 C198.6 409.3 201.9 397.4 203.9 390.8 C205.9 384.1 207.9 377.8 209.4 373.1 C210.9 368.5 211.9 366.2 213.0 363.0 C214.1 359.8 214.9 357.4 216.0 353.9 C217.1 350.4 218.5 345.9 219.8 342.1 C221.1 338.4 222.4 334.3 223.7 331.4 C225.0 328.4 226.2 326.3 227.4 324.6 C228.7 322.8 230.0 321.6 231.4 320.6 C232.9 319.6 234.6 318.7 236.2 318.5 C237.8 318.2 239.5 318.5 240.9 319.2 C242.3 320.0 243.3 321.5 244.4 323.1 C245.6 324.8 246.4 326.9 247.5 329.1 C248.7 331.4 249.9 333.8 251.3 336.5 C252.7 339.2 254.2 342.2 255.9 345.1 C257.5 348.0 259.3 351.2 261.1 354.0 C262.9 356.8 265.1 359.3 266.7 361.6 C268.4 364.0 269.9 366.1 271.1 368.3 C272.3 370.5 273.1 372.7 274.1 375.0 C275.1 377.3 276.1 379.6 277.1 381.9 C278.0 384.2 279.1 386.4 280.0 388.7 C280.9 391.0 281.7 393.3 282.6 395.6 C283.5 397.9 284.3 400.2 285.1 402.5 C286.0 404.7 286.8 406.6 287.6 409.0 C288.4 411.4 289.1 413.6 290.0 417.0 C290.9 420.3 292.0 424.8 293.2 429.0 C294.4 433.3 295.8 438.3 297.3 442.4 C298.7 446.5 300.4 450.0 301.9 453.4 C303.4 456.8 305.0 459.8 306.4 462.9 C307.7 466.0 308.9 469.1 310.1 472.1 C311.3 475.2 312.4 478.3 313.6 481.3 C314.7 484.3 315.9 487.2 317.0 490.1 C318.1 492.9 319.2 495.8 320.2 498.6 C321.3 501.5 322.2 504.4 323.2 507.2 C324.2 510.1 325.2 513.0 326.3 515.9 C327.3 518.7 328.6 521.4 329.6 524.2 C330.6 527.0 331.5 529.7 332.4 532.8 C333.2 535.8 333.9 539.1 334.9 542.5 C335.9 546.0 337.0 549.8 338.2 553.6 C339.4 557.4 340.6 561.0 341.9 565.4 C343.2 569.8 344.2 573.7 345.9 579.8 C347.5 585.8 349.4 593.5 351.9 601.8 C354.4 610.1 358.0 620.9 360.9 629.5 C363.9 638.0 367.2 646.3 369.6 653.0 C371.9 659.6 373.5 664.6 375.0 669.5 C376.5 674.3 377.5 678.1 378.7 681.8 C379.9 685.6 381.3 689.1 382.4 691.9 C383.4 694.7 384.4 696.9 385.0 698.4 C385.6 699.9 385.7 700.1 386.0 700.9 C386.3 701.7 386.7 702.5 387.0 703.3 C387.3 704.1 387.7 704.8 388.0 705.6 C388.3 706.4 388.7 707.2 389.0 707.9 C389.3 708.7 389.7 709.5 390.0 710.2 C390.3 710.9 390.7 711.6 391.0 712.3 C391.3 713.0 391.7 713.7 392.0 714.4 C392.3 715.1 392.7 715.8 393.0 716.6 C393.3 717.3 393.7 718.0 394.0 718.7 C394.3 719.4 394.7 720.1 395.0 720.8 C395.3 721.5 395.7 722.2 396.0 723.0 C396.3 723.7 396.7 724.4 397.0 725.1 C397.3 725.8 397.7 726.6 398.0 727.3 C398.3 728.0 398.7 728.7 399.0 729.5 C399.3 730.2 399.7 730.9 400.0 731.6 C400.3 732.4 400.7 733.1 401.0 733.9 C401.3 734.6 401.7 735.3 402.0 736.1 C402.3 736.8 402.7 737.6 403.0 738.3 C403.3 739.1 403.7 739.8 404.0 740.6 C404.3 741.3 404.7 742.1 405.0 742.8 C405.3 743.6 405.7 744.4 406.0 745.1 C406.3 745.9 406.7 746.7 407.0 747.5 C407.3 748.2 407.7 749.0 408.0 749.8 C408.3 750.5 408.7 751.3 409.0 752.1 C409.3 752.8 409.7 753.6 410.0 754.4 C410.3 755.2 410.7 755.9 411.0 756.7 C411.3 757.5 411.7 758.2 412.0 759.0 C412.3 759.8 412.7 760.5 413.0 761.3 C413.3 762.1 413.7 762.8 414.0 763.6 C414.3 764.4 414.7 765.1 415.0 765.9 C415.3 766.7 415.7 767.4 416.0 768.2 C416.3 768.9 416.7 769.7 417.0 770.5 C417.3 771.2 417.7 772.0 418.0 772.7 C418.3 773.5 418.7 774.2 419.0 775.0 C419.3 775.7 419.7 776.5 420.0 777.2 C420.3 778.0 420.7 778.7 421.0 779.4 C421.3 780.2 421.7 780.9 422.0 781.6 C422.3 782.4 422.7 783.1 423.0 783.8 C423.3 784.5 423.7 785.3 424.0 786.0 C424.3 786.7 424.6 787.3 425.0 788.1 C425.4 789.0 425.8 789.9 426.2 790.8 C426.7 791.7 427.1 792.6 427.5 793.5 C427.9 794.4 428.3 795.2 428.8 796.1 C429.2 797.0 429.6 797.9 430.0 798.7 C430.4 799.6 430.8 800.5 431.2 801.4 C431.7 802.2 432.1 803.1 432.5 803.9 C432.9 804.8 433.3 805.7 433.8 806.5 C434.2 807.4 434.6 808.2 435.0 809.1 C435.4 809.9 435.8 810.8 436.2 811.6 C436.7 812.4 437.1 813.3 437.5 814.1 C437.9 815.0 438.3 815.8 438.8 816.6 C439.2 817.5 439.6 818.3 440.0 819.1 C440.4 819.9 440.8 820.8 441.2 821.6 C441.7 822.4 442.1 823.2 442.5 824.0 C442.9 824.8 443.3 825.7 443.8 826.5 C444.2 827.3 444.6 828.1 445.0 828.9 C445.4 829.7 445.8 830.5 446.2 831.3 C446.7 832.1 447.1 832.9 447.5 833.7 C447.9 834.5 448.3 835.3 448.8 836.1 C449.2 836.8 449.6 837.6 450.0 838.4 C450.4 839.2 450.8 840.0 451.2 840.7 C451.7 841.5 452.1 842.3 452.5 843.1 C452.9 843.8 453.3 844.6 453.8 845.4 C454.2 846.1 454.6 846.9 455.0 847.7 C455.4 848.4 455.8 849.2 456.2 850.0 C456.7 850.7 457.1 851.5 457.5 852.2 C457.9 853.0 458.3 853.7 458.8 854.5 C459.2 855.2 459.6 856.0 460.0 856.7 C460.4 857.4 460.8 858.2 461.2 858.9 C461.7 859.7 462.1 860.4 462.5 861.1 C462.9 861.9 463.3 862.6 463.8 863.3 C464.2 864.0 464.5 864.7 465.0 865.5 C465.5 866.3 466.0 867.2 466.5 868.1 C467.0 868.9 467.5 869.8 468.0 870.6 C468.5 871.5 469.0 872.3 469.5 873.2 C470.0 874.0 470.5 874.9 471.0 875.7 C471.5 876.6 472.0 877.4 472.5 878.2 C473.0 879.1 473.5 879.9 474.0 880.7 C474.5 881.5 475.0 882.4 475.5 883.2 C476.0 884.0 476.5 884.8 477.0 885.6 C477.5 886.5 478.0 887.3 478.5 888.1 C479.0 888.9 479.5 889.7 480.0 890.5 C480.5 891.3 481.0 892.1 481.5 892.9 C482.0 893.7 482.5 894.5 483.0 895.3 C483.5 896.0 484.0 896.8 484.5 897.6 C485.0 898.4 485.5 899.2 486.0 900.0 C486.5 900.7 487.0 901.5 487.5 902.3 C488.0 903.0 488.5 903.8 489.0 904.6 C489.5 905.3 490.0 906.1 490.5 906.9 C491.0 907.6 491.5 908.4 492.0 909.1 C492.5 909.9 493.0 910.6 493.5 911.4 C494.0 912.1 494.5 912.9 495.0 913.6 C495.5 914.4 496.0 915.1 496.5 915.8 C497.0 916.6 497.5 917.3 498.0 918.0 C498.5 918.8 499.0 919.5 499.5 920.2 C500.0 921.0 500.5 921.7 501.0 922.4 C501.5 923.1 502.0 923.8 502.5 924.6 C503.0 925.3 503.5 926.0 504.0 926.7 C504.5 927.4 505.0 928.1 505.5 928.8 C506.0 929.5 506.5 930.2 507.0 930.9 C507.5 931.6 508.0 932.3 508.5 933.0 C509.0 933.7 509.5 934.4 510.0 935.1 C510.5 935.8 511.0 936.5 511.5 937.1 C512.0 937.8 512.5 938.5 513.0 939.2 C513.5 939.9 514.0 940.6 514.5 941.2 C515.0 941.9 515.5 942.6 516.0 943.2 C516.5 943.9 517.0 944.5 517.5 945.2 C518.0 946.0 518.7 946.8 519.2 947.6 C519.8 948.3 520.4 949.1 521.0 949.9 C521.6 950.6 522.2 951.4 522.8 952.2 C523.3 952.9 523.9 953.7 524.5 954.4 C525.1 955.2 525.7 955.9 526.2 956.7 C526.8 957.4 527.4 958.2 528.0 958.9 C528.6 959.6 529.2 960.4 529.8 961.1 C530.3 961.9 530.9 962.6 531.5 963.3 C532.1 964.1 532.7 964.8 533.2 965.5 C533.8 966.2 534.4 967.0 535.0 967.7 C535.6 968.4 536.2 969.1 536.8 969.8 C537.3 970.5 537.9 971.2 538.5 972.0 C539.1 972.7 539.7 973.4 540.2 974.1 C540.8 974.8 541.4 975.5 542.0 976.2 C542.6 976.9 543.2 977.6 543.8 978.3 C544.3 979.0 544.9 979.6 545.5 980.3 C546.1 981.0 546.7 981.7 547.2 982.4 C547.8 983.1 548.4 983.7 549.0 984.4 C549.6 985.1 550.2 985.8 550.8 986.4 C551.3 987.1 551.9 987.8 552.5 988.5 C553.1 989.1 553.7 989.8 554.2 990.4 C554.8 991.1 555.4 991.8 556.0 992.4 C556.6 993.1 557.2 993.7 557.8 994.4 C558.3 995.0 558.9 995.7 559.5 996.3 C560.1 997.0 560.7 997.6 561.2 998.3 C561.8 998.9 562.4 999.5 563.0 1000.2 C563.6 1000.8 564.2 1001.4 564.8 1002.1 C565.3 1002.7 565.9 1003.3 566.5 1004.0 C567.1 1004.6 567.7 1005.2 568.2 1005.8 C568.8 1006.4 569.4 1007.1 570.0 1007.7 C570.6 1008.3 571.2 1008.9 571.8 1009.5 C572.3 1010.1 572.9 1010.7 573.5 1011.3 C574.1 1011.9 574.7 1012.5 575.2 1013.1 C575.8 1013.7 576.4 1014.3 577.0 1014.9 C577.6 1015.6 578.3 1016.3 579.0 1017.0 C579.7 1017.6 580.3 1018.3 581.0 1019.0 C581.7 1019.6 582.3 1020.3 583.0 1021.0 C583.7 1021.6 584.3 1022.3 585.0 1022.9 C585.7 1023.6 586.3 1024.3 587.0 1024.9 C587.7 1025.6 588.3 1026.2 589.0 1026.8 C589.7 1027.5 590.3 1028.1 591.0 1028.8 C591.7 1029.4 592.3 1030.0 593.0 1030.7 C593.7 1031.3 594.3 1031.9 595.0 1032.5 C595.7 1033.2 596.3 1033.8 597.0 1034.4 C597.7 1035.0 598.3 1035.6 599.0 1036.2 C599.7 1036.8 600.3 1037.5 601.0 1038.1 C601.7 1038.7 602.3 1039.3 603.0 1039.9 C603.7 1040.5 604.3 1041.1 605.0 1041.7 C605.7 1042.2 606.3 1042.8 607.0 1043.4 C607.7 1044.0 608.3 1044.6 609.0 1045.2 C609.7 1045.8 610.3 1046.3 611.0 1046.9 C611.7 1047.5 612.3 1048.1 613.0 1048.6 C613.7 1049.2 614.3 1049.8 615.0 1050.3 C615.7 1050.9 616.3 1051.4 617.0 1052.0 C617.7 1052.6 618.3 1053.1 619.0 1053.7 C619.7 1054.2 620.3 1054.8 621.0 1055.3 C621.7 1055.9 622.3 1056.4 623.0 1056.9 C623.7 1057.5 624.3 1058.0 625.0 1058.5 C625.7 1059.1 626.3 1059.6 627.0 1060.1 C627.7 1060.7 628.3 1061.2 629.0 1061.7 C629.7 1062.2 630.3 1062.7 631.0 1063.3 C631.7 1063.8 632.3 1064.3 633.0 1064.8 C633.7 1065.3 634.3 1065.8 635.0 1066.3 C635.7 1066.8 636.3 1067.3 637.0 1067.8 C637.7 1068.4 638.5 1069.0 639.2 1069.5 C640.0 1070.1 640.8 1070.6 641.5 1071.2 C642.2 1071.7 643.0 1072.3 643.8 1072.8 C644.5 1073.3 645.2 1073.9 646.0 1074.4 C646.8 1074.9 647.5 1075.5 648.2 1076.0 C649.0 1076.5 649.8 1077.0 650.5 1077.6 C651.2 1078.1 652.0 1078.6 652.8 1079.1 C653.5 1079.6 654.2 1080.1 655.0 1080.6 C655.8 1081.2 656.5 1081.7 657.2 1082.2 C658.0 1082.7 658.8 1083.2 659.5 1083.6 C660.2 1084.1 661.0 1084.6 661.8 1085.1 C662.5 1085.6 663.2 1086.1 664.0 1086.6 C664.8 1087.0 665.5 1087.5 666.2 1088.0 C667.0 1088.5 667.8 1088.9 668.5 1089.4 C669.2 1089.9 670.0 1090.3 670.8 1090.8 C671.5 1091.2 672.2 1091.7 673.0 1092.2 C673.8 1092.6 674.5 1093.1 675.2 1093.5 C676.0 1094.0 676.8 1094.4 677.5 1094.8 C678.2 1095.3 679.0 1095.7 679.8 1096.2 C680.5 1096.6 681.2 1097.0 682.0 1097.5 C682.8 1097.9 683.5 1098.3 684.2 1098.7 C685.0 1099.2 685.8 1099.6 686.5 1100.0 C687.2 1100.4 688.0 1100.8 688.8 1101.2 C689.5 1101.6 690.2 1102.1 691.0 1102.5 C691.8 1102.9 692.5 1103.3 693.2 1103.7 C694.0 1104.1 694.8 1104.5 695.5 1104.9 C696.2 1105.2 697.0 1105.6 697.8 1106.0 C698.5 1106.4 699.2 1106.8 700.0 1107.2 C700.8 1107.6 701.5 1107.9 702.2 1108.3 C703.0 1108.7 703.8 1109.1 704.5 1109.4 C705.2 1109.8 706.0 1110.2 706.8 1110.5 C707.5 1110.9 708.4 1111.4 709.2 1111.7 C710.1 1112.1 710.9 1112.5 711.8 1112.9 C712.6 1113.3 713.4 1113.7 714.2 1114.1 C715.1 1114.5 715.9 1114.9 716.8 1115.2 C717.6 1115.6 718.4 1116.0 719.2 1116.4 C720.1 1116.7 720.9 1117.1 721.8 1117.5 C722.6 1117.8 723.4 1118.2 724.2 1118.6 C725.1 1118.9 725.9 1119.3 726.8 1119.6 C727.6 1120.0 728.4 1120.3 729.2 1120.7 C730.1 1121.0 730.9 1121.4 731.8 1121.7 C732.6 1122.1 733.4 1122.4 734.2 1122.7 C735.1 1123.1 735.9 1123.4 736.8 1123.7 C737.6 1124.1 738.4 1124.4 739.2 1124.7 C740.1 1125.0 740.9 1125.4 741.8 1125.7 C742.6 1126.0 743.4 1126.3 744.2 1126.6 C745.1 1126.9 745.9 1127.2 746.8 1127.5 C747.6 1127.8 748.4 1128.1 749.2 1128.4 C750.1 1128.7 750.9 1129.0 751.8 1129.3 C752.6 1129.6 753.4 1129.9 754.2 1130.2 C755.1 1130.5 755.9 1130.8 756.8 1131.1 C757.6 1131.4 758.4 1131.6 759.2 1131.9 C760.1 1132.2 760.9 1132.5 761.8 1132.7 C762.6 1133.0 763.4 1133.3 764.2 1133.6 C765.1 1133.8 765.9 1134.1 766.8 1134.4 C767.6 1134.6 768.4 1134.9 769.2 1135.1 C770.1 1135.4 770.9 1135.6 771.8 1135.9 C772.6 1136.1 773.4 1136.4 774.2 1136.6 C775.1 1136.9 775.9 1137.1 776.8 1137.4 C777.6 1137.6 778.4 1137.9 779.2 1138.1 C780.1 1138.3 780.9 1138.6 781.8 1138.8 C782.6 1139.0 783.4 1139.3 784.2 1139.5 C785.1 1139.7 785.9 1140.0 786.8 1140.2 C787.6 1140.4 788.4 1140.6 789.2 1140.9 C790.1 1141.1 790.9 1141.3 791.8 1141.5 C792.6 1141.7 793.4 1141.9 794.2 1142.1 C795.1 1142.4 795.9 1142.6 796.8 1142.8 C797.6 1143.0 798.4 1143.2 799.2 1143.4 C800.1 1143.6 800.9 1143.8 801.8 1144.0 C802.6 1144.2 803.4 1144.4 804.2 1144.6 C805.1 1144.8 805.9 1145.0 806.8 1145.2 C807.6 1145.4 808.4 1145.5 809.2 1145.7 C810.1 1145.9 810.9 1146.1 811.8 1146.3 C812.6 1146.5 813.4 1146.7 814.2 1146.8 C815.1 1147.0 815.9 1147.2 816.8 1147.4 C817.6 1147.5 818.4 1147.7 819.2 1147.9 C820.1 1148.1 820.9 1148.2 821.8 1148.4 C822.6 1148.6 823.4 1148.7 824.2 1148.9 C825.1 1149.1 825.9 1149.2 826.8 1149.4 C827.6 1149.6 828.4 1149.7 829.2 1149.9 C830.1 1150.0 830.9 1150.2 831.8 1150.3 C832.6 1150.5 833.4 1150.6 834.2 1150.8 C835.1 1151.0 835.9 1151.1 836.8 1151.3 C837.6 1151.4 838.4 1151.6 839.2 1151.7 C840.1 1151.8 840.9 1152.0 841.8 1152.1 C842.6 1152.3 843.4 1152.4 844.2 1152.6 C845.1 1152.7 845.9 1152.8 846.8 1153.0 C847.6 1153.1 848.4 1153.2 849.2 1153.4 C850.1 1153.5 850.9 1153.7 851.8 1153.8 C852.6 1153.9 853.4 1154.0 854.2 1154.2 C855.1 1154.3 855.9 1154.4 856.8 1154.6 C857.6 1154.7 858.4 1154.8 859.2 1154.9 C860.1 1155.1 860.9 1155.2 861.8 1155.3 C862.6 1155.4 863.4 1155.6 864.2 1155.7 C865.1 1155.8 865.9 1155.9 866.8 1156.0 C867.6 1156.2 868.4 1156.3 869.2 1156.4 C870.1 1156.5 870.9 1156.6 871.8 1156.7 C872.6 1156.8 873.4 1157.0 874.2 1157.1 C875.1 1157.2 875.9 1157.3 876.8 1157.4 C877.6 1157.5 878.4 1157.6 879.2 1157.7 C880.1 1157.8 880.9 1157.9 881.8 1158.0 C882.6 1158.2 883.4 1158.3 884.2 1158.4 C885.1 1158.5 885.9 1158.6 886.8 1158.7 C887.6 1158.8 888.4 1158.9 889.2 1159.0 C890.1 1159.1 890.9 1159.2 891.8 1159.3 C892.6 1159.4 893.4 1159.5 894.2 1159.6 C895.1 1159.7 895.9 1159.8 896.8 1159.9 C897.6 1160.0 898.4 1160.1 899.2 1160.2 C900.1 1160.3 900.9 1160.4 901.8 1160.5 C902.6 1160.6 903.4 1160.6 904.2 1160.7 C905.1 1160.8 905.9 1160.9 906.8 1161.0 C907.6 1161.1 908.4 1161.2 909.2 1161.3 C910.1 1161.4 910.9 1161.5 911.8 1161.6 C912.6 1161.7 913.4 1161.8 914.2 1161.8 C915.1 1161.9 915.9 1162.0 916.8 1162.1 C917.6 1162.2 918.4 1162.3 919.2 1162.4 C920.1 1162.5 920.9 1162.6 921.8 1162.6 C922.6 1162.7 923.4 1162.8 924.2 1162.9 C925.1 1163.0 925.9 1163.1 926.8 1163.2 C927.6 1163.3 928.4 1163.3 929.2 1163.4 C930.1 1163.5 930.9 1163.6 931.8 1163.7 C932.6 1163.8 933.4 1163.9 934.2 1163.9 C935.1 1164.0 935.9 1164.1 936.8 1164.2 C937.6 1164.3 938.4 1164.4 939.2 1164.4 C940.1 1164.5 940.9 1164.6 941.8 1164.7 C942.6 1164.8 943.4 1164.8 944.2 1164.9 C945.1 1165.0 945.9 1165.1 946.8 1165.2 C947.6 1165.2 948.4 1165.3 949.2 1165.4 C950.1 1165.5 950.9 1165.6 951.8 1165.6 C952.6 1165.7 953.4 1165.8 954.2 1165.9 C955.1 1166.0 955.9 1166.0 956.8 1166.1 C957.6 1166.2 958.4 1166.3 959.2 1166.3 C960.1 1166.4 960.9 1166.5 961.8 1166.6 C962.6 1166.7 963.4 1166.7 964.2 1166.8 C965.1 1166.9 965.9 1167.0 966.8 1167.0 C967.6 1167.1 968.4 1167.2 969.2 1167.3 C970.1 1167.3 970.9 1167.4 971.8 1167.5 C972.6 1167.6 973.4 1167.6 974.2 1167.7 C975.1 1167.8 975.9 1167.8 976.8 1167.9 C977.6 1168.0 978.4 1168.1 979.2 1168.1 C980.1 1168.2 980.9 1168.3 981.8 1168.3 C982.6 1168.4 983.4 1168.5 984.2 1168.6 C985.1 1168.6 985.9 1168.7 986.8 1168.8 C987.6 1168.8 988.4 1168.9 989.2 1169.0 C990.1 1169.0 990.9 1169.1 991.8 1169.2 C992.6 1169.2 993.4 1169.3 994.2 1169.4 C995.1 1169.4 995.9 1169.5 996.8 1169.6 C997.6 1169.6 998.4 1169.7 999.2 1169.8 C1000.1 1169.8 1000.9 1169.9 1001.8 1170.0 C1002.6 1170.0 1003.4 1170.1 1004.2 1170.2 C1005.1 1170.2 1005.9 1170.3 1006.8 1170.4 C1007.6 1170.4 1008.4 1170.5 1009.2 1170.6 C1010.1 1170.6 1010.9 1170.7 1011.8 1170.8 C1012.6 1170.8 1013.4 1170.9 1014.2 1170.9 C1015.1 1171.0 1015.9 1171.1 1016.8 1171.1 C1017.6 1171.2 1018.4 1171.2 1019.2 1171.3 C1020.1 1171.4 1020.9 1171.4 1021.8 1171.5 C1022.6 1171.6 1023.4 1171.6 1024.2 1171.7 C1025.1 1171.7 1025.9 1171.8 1026.8 1171.9 C1027.6 1171.9 1028.4 1172.0 1029.2 1172.0 C1030.1 1172.1 1030.9 1172.1 1031.8 1172.2 C1032.6 1172.3 1033.4 1172.3 1034.2 1172.4 C1035.1 1172.4 1035.9 1172.5 1036.8 1172.6 C1037.6 1172.6 1038.4 1172.7 1039.2 1172.7 C1040.1 1172.8 1040.9 1172.8 1041.8 1172.9 C1042.6 1172.9 1043.4 1173.0 1044.2 1173.1 C1045.1 1173.1 1045.9 1173.2 1046.8 1173.2 C1047.6 1173.3 1048.4 1173.3 1049.2 1173.4 C1050.1 1173.4 1050.9 1173.5 1051.8 1173.6 C1052.6 1173.6 1053.4 1173.7 1054.2 1173.7 C1055.1 1173.8 1055.9 1173.8 1056.8 1173.9 C1057.6 1173.9 1058.4 1174.0 1059.2 1174.0 C1060.1 1174.1 1060.9 1174.1 1061.8 1174.2 C1062.6 1174.2 1063.4 1174.3 1064.2 1174.3 C1065.1 1174.4 1065.9 1174.4 1066.8 1174.5 C1067.6 1174.5 1068.4 1174.6 1069.2 1174.6 C1070.1 1174.7 1070.9 1174.7 1071.8 1174.8 C1072.6 1174.8 1073.4 1174.9 1074.2 1174.9 C1075.1 1175.0 1075.9 1175.0 1076.8 1175.1 C1077.6 1175.1 1078.4 1175.2 1079.2 1175.2 C1080.1 1175.3 1080.9 1175.3 1081.8 1175.4 C1082.6 1175.4 1083.4 1175.5 1084.2 1175.5 C1085.1 1175.6 1085.9 1175.6 1086.8 1175.7 C1087.6 1175.7 1088.4 1175.7 1089.2 1175.8 C1090.1 1175.8 1090.9 1175.9 1091.8 1175.9 C1092.6 1176.0 1093.4 1176.0 1094.2 1176.1 C1095.1 1176.1 1095.9 1176.2 1096.8 1176.2 C1097.6 1176.2 1098.4 1176.3 1099.2 1176.3 C1100.1 1176.4 1100.9 1176.4 1101.8 1176.5 C1102.6 1176.5 1103.4 1176.5 1104.2 1176.6 C1105.1 1176.6 1105.9 1176.7 1106.8 1176.7 C1107.6 1176.8 1108.4 1176.8 1109.2 1176.8 C1110.1 1176.9 1110.9 1176.9 1111.8 1177.0 C1112.6 1177.0 1113.4 1177.1 1114.2 1177.1 C1115.1 1177.1 1115.9 1177.2 1116.8 1177.2 C1117.6 1177.3 1118.4 1177.3 1119.2 1177.3 C1120.1 1177.4 1120.9 1177.4 1121.8 1177.5 C1122.6 1177.5 1123.4 1177.5 1124.2 1177.6 C1125.1 1177.6 1125.9 1177.7 1126.8 1177.7 C1127.6 1177.7 1128.4 1177.8 1129.2 1177.8 C1130.1 1177.9 1130.9 1177.9 1131.8 1177.9 C1132.6 1178.0 1133.4 1178.0 1134.2 1178.0 C1135.1 1178.1 1135.9 1178.1 1136.8 1178.2 C1137.6 1178.2 1138.4 1178.2 1139.2 1178.3 C1140.1 1178.3 1140.9 1178.3 1141.8 1178.4 C1142.6 1178.4 1143.4 1178.5 1144.2 1178.5 C1145.1 1178.5 1145.9 1178.6 1146.8 1178.6 C1147.6 1178.6 1148.4 1178.7 1149.2 1178.7 C1150.1 1178.7 1150.9 1178.8 1151.8 1178.8 C1152.6 1178.8 1153.4 1178.9 1154.2 1178.9 C1155.1 1178.9 1155.9 1179.0 1156.8 1179.0 C1157.6 1179.0 1158.4 1179.1 1159.2 1179.1 C1160.1 1179.2 1160.9 1179.2 1161.8 1179.2 C1162.6 1179.3 1163.4 1179.3 1164.2 1179.3 C1165.1 1179.3 1165.9 1179.4 1166.8 1179.4 C1167.6 1179.4 1168.4 1179.5 1169.2 1179.5 C1170.1 1179.5 1170.9 1179.6 1171.8 1179.6 C1172.6 1179.6 1173.4 1179.7 1174.2 1179.7 C1175.1 1179.7 1175.9 1179.8 1176.8 1179.8 C1177.6 1179.8 1178.4 1179.9 1179.2 1179.9 C1180.1 1179.9 1180.9 1180.0 1181.8 1180.0 C1182.6 1180.0 1183.4 1180.0 1184.2 1180.1 C1185.1 1180.1 1185.9 1180.1 1186.8 1180.2 C1187.6 1180.2 1188.4 1180.2 1189.2 1180.3 C1190.1 1180.3 1190.9 1180.3 1191.8 1180.3 C1192.6 1180.4 1193.4 1180.4 1194.2 1180.4 C1195.1 1180.5 1195.9 1180.5 1196.8 1180.5 C1197.6 1180.5 1198.4 1180.6 1199.2 1180.6 C1200.1 1180.6 1200.9 1180.7 1201.8 1180.7 C1202.6 1180.7 1203.4 1180.7 1204.2 1180.8 C1205.1 1180.8 1205.9 1180.8 1206.8 1180.8 C1207.6 1180.9 1208.4 1180.9 1209.2 1180.9 C1210.1 1181.0 1210.9 1181.0 1211.8 1181.0 C1212.6 1181.0 1213.4 1181.1 1214.2 1181.1 C1215.1 1181.1 1215.9 1181.1 1216.8 1181.2 C1217.6 1181.2 1218.4 1181.2 1219.2 1181.2 C1220.1 1181.3 1220.9 1181.3 1221.8 1181.3 C1222.6 1181.4 1223.4 1181.4 1224.2 1181.4 C1225.1 1181.4 1225.9 1181.5 1226.8 1181.5 C1227.6 1181.5 1228.4 1181.5 1229.2 1181.6 C1230.1 1181.6 1230.9 1181.6 1231.8 1181.6 C1232.6 1181.7 1233.4 1181.7 1234.2 1181.7 C1235.1 1181.7 1235.9 1181.7 1236.8 1181.8 C1237.6 1181.8 1238.4 1181.8 1239.2 1181.8 C1240.1 1181.9 1240.9 1181.9 1241.8 1181.9 C1242.6 1181.9 1243.4 1182.0 1244.2 1182.0 C1245.1 1182.0 1245.9 1182.0 1246.8 1182.1 C1247.6 1182.1 1248.4 1182.1 1249.2 1182.1 C1250.1 1182.1 1250.9 1182.2 1251.8 1182.2 C1252.6 1182.2 1253.4 1182.2 1254.2 1182.3 C1255.1 1182.3 1255.9 1182.3 1256.8 1182.3 C1257.6 1182.3 1258.4 1182.4 1259.2 1182.4 C1260.1 1182.4 1260.9 1182.4 1261.8 1182.5 C1262.6 1182.5 1263.4 1182.5 1264.2 1182.5 C1265.1 1182.5 1265.9 1182.6 1266.8 1182.6 C1267.6 1182.6 1268.4 1182.6 1269.2 1182.6 C1270.1 1182.7 1270.9 1182.7 1271.8 1182.7 C1272.6 1182.7 1273.4 1182.8 1274.2 1182.8 C1275.1 1182.8 1275.9 1182.8 1276.8 1182.8 C1277.6 1182.9 1278.4 1182.9 1279.2 1182.9 C1280.1 1182.9 1280.9 1182.9 1281.8 1183.0 C1282.6 1183.0 1283.4 1183.0 1284.2 1183.0 C1285.1 1183.0 1285.9 1183.1 1286.8 1183.1 C1287.6 1183.1 1288.4 1183.1 1289.2 1183.1 C1290.1 1183.2 1290.9 1183.2 1291.8 1183.2 C1292.6 1183.2 1293.4 1183.2 1294.2 1183.2 C1295.1 1183.3 1295.9 1183.3 1296.8 1183.3 C1297.6 1183.3 1298.4 1183.3 1299.2 1183.4 C1300.1 1183.4 1300.9 1183.4 1301.8 1183.4 C1302.6 1183.4 1303.4 1183.5 1304.2 1183.5 C1305.1 1183.5 1305.9 1183.5 1306.8 1183.5 C1307.6 1183.5 1308.4 1183.6 1309.2 1183.6 C1310.1 1183.6 1310.9 1183.6 1311.8 1183.6 C1312.6 1183.7 1313.4 1183.7 1314.2 1183.7 C1315.1 1183.7 1315.9 1183.7 1316.8 1183.7 C1317.6 1183.8 1318.4 1183.8 1319.2 1183.8 C1320.1 1183.8 1320.9 1183.8 1321.8 1183.9 C1322.6 1183.9 1323.4 1183.9 1324.2 1183.9 C1325.1 1183.9 1325.9 1183.9 1326.8 1184.0 C1327.6 1184.0 1328.4 1184.0 1329.2 1184.0 C1330.1 1184.0 1330.9 1184.0 1331.8 1184.1 C1332.6 1184.1 1333.4 1184.1 1334.2 1184.1 C1335.1 1184.1 1335.9 1184.2 1336.8 1184.2 C1337.6 1184.2 1338.4 1184.2 1339.2 1184.2 C1340.1 1184.2 1340.9 1184.3 1341.8 1184.3 C1342.6 1184.3 1343.4 1184.3 1344.2 1184.3 C1345.1 1184.3 1345.9 1184.4 1346.8 1184.4 C1347.6 1184.4 1348.4 1184.4 1349.2 1184.4 C1350.1 1184.4 1350.9 1184.5 1351.8 1184.5 C1352.6 1184.5 1353.4 1184.5 1354.2 1184.5 C1355.1 1184.5 1355.9 1184.6 1356.8 1184.6 C1357.6 1184.6 1358.4 1184.6 1359.2 1184.6 C1360.1 1184.6 1360.9 1184.7 1361.8 1184.7 C1362.6 1184.7 1363.4 1184.7 1364.2 1184.7 C1365.1 1184.7 1365.9 1184.8 1366.8 1184.8 C1367.6 1184.8 1368.4 1184.8 1369.2 1184.8 C1370.1 1184.8 1370.9 1184.8 1371.8 1184.9 C1372.6 1184.9 1373.4 1184.9 1374.2 1184.9 C1375.1 1184.9 1375.9 1184.9 1376.8 1185.0 C1377.6 1185.0 1378.4 1185.0 1379.2 1185.0 C1380.1 1185.0 1380.9 1185.0 1381.8 1185.1 C1382.6 1185.1 1383.4 1185.1 1384.2 1185.1 C1385.1 1185.1 1385.9 1185.1 1386.8 1185.2 C1387.6 1185.2 1388.4 1185.2 1389.2 1185.2 C1390.1 1185.2 1390.9 1185.2 1391.8 1185.2 C1392.6 1185.3 1393.4 1185.3 1394.2 1185.3 C1395.1 1185.3 1395.9 1185.3 1396.8 1185.3 C1397.6 1185.4 1398.4 1185.4 1399.2 1185.4 C1400.1 1185.4 1400.9 1185.4 1401.8 1185.4 C1402.6 1185.5 1403.4 1185.5 1404.2 1185.5 C1405.1 1185.5 1405.9 1185.5 1406.8 1185.5 C1407.6 1185.6 1408.4 1185.6 1409.2 1185.6 C1410.1 1185.6 1410.9 1185.6 1411.8 1185.6 C1412.6 1185.7 1413.4 1185.7 1414.2 1185.7 C1415.1 1185.7 1415.9 1185.7 1416.8 1185.7 C1417.6 1185.7 1418.4 1185.8 1419.2 1185.8 C1420.1 1185.8 1420.9 1185.8 1421.8 1185.8 C1422.6 1185.8 1423.4 1185.9 1424.2 1185.9 C1425.1 1185.9 1425.9 1185.9 1426.8 1185.9 C1427.6 1185.9 1428.4 1186.0 1429.2 1186.0 C1430.1 1186.0 1430.9 1186.0 1431.8 1186.0 C1432.6 1186.0 1433.4 1186.1 1434.2 1186.1 C1435.1 1186.1 1435.9 1186.1 1436.8 1186.1 C1437.6 1186.1 1438.4 1186.2 1439.2 1186.2 C1440.1 1186.2 1440.9 1186.2 1441.8 1186.2 C1442.6 1186.2 1443.4 1186.3 1444.2 1186.3 C1445.1 1186.3 1445.9 1186.3 1446.8 1186.3 C1447.6 1186.3 1448.4 1186.4 1449.2 1186.4 C1450.1 1186.4 1450.9 1186.4 1451.8 1186.4 C1452.6 1186.4 1453.4 1186.5 1454.2 1186.5 C1455.1 1186.5 1455.9 1186.5 1456.8 1186.5 C1457.6 1186.5 1458.4 1186.6 1459.2 1186.6 C1460.1 1186.6 1460.9 1186.6 1461.8 1186.6 C1462.6 1186.7 1463.4 1186.7 1464.2 1186.7 C1465.1 1186.7 1465.9 1186.7 1466.8 1186.7 C1467.6 1186.8 1468.4 1186.8 1469.2 1186.8 C1470.1 1186.8 1470.9 1186.8 1471.8 1186.8 C1472.6 1186.9 1473.4 1186.9 1474.2 1186.9 C1475.1 1186.9 1475.9 1186.9 1476.8 1187.0 C1477.6 1187.0 1478.4 1187.0 1479.2 1187.0 C1480.1 1187.0 1480.9 1187.0 1481.8 1187.1 C1482.6 1187.1 1483.4 1187.1 1484.2 1187.1 C1485.1 1187.1 1485.9 1187.2 1486.8 1187.2 C1487.6 1187.2 1488.4 1187.2 1489.2 1187.2 C1490.1 1187.3 1490.9 1187.3 1491.8 1187.3 C1492.6 1187.3 1493.4 1187.3 1494.2 1187.3 C1495.1 1187.4 1495.9 1187.4 1496.8 1187.4 C1497.6 1187.4 1498.4 1187.4 1499.2 1187.5 C1500.1 1187.5 1500.9 1187.5 1501.8 1187.5 C1502.6 1187.5 1503.4 1187.6 1504.2 1187.6 C1505.1 1187.6 1505.9 1187.6 1506.8 1187.6 C1507.6 1187.7 1508.4 1187.7 1509.2 1187.7 C1510.1 1187.7 1510.9 1187.7 1511.8 1187.8 C1512.6 1187.8 1513.4 1187.8 1514.2 1187.8 C1515.1 1187.8 1515.9 1187.9 1516.8 1187.9 C1517.6 1187.9 1518.4 1187.9 1519.2 1188.0 C1520.1 1188.0 1520.9 1188.0 1521.8 1188.0 C1522.6 1188.0 1523.4 1188.1 1524.2 1188.1 C1525.1 1188.1 1525.9 1188.1 1526.8 1188.1 C1527.6 1188.2 1528.4 1188.2 1529.2 1188.2 C1530.1 1188.2 1531.0 1188.3 1531.8 1188.3 C1532.5 1188.3 1533.2 1188.3 1533.5 1188.3" fill="none" stroke="#f43a3a" stroke-width="4.5" stroke-linejoin="round"/>
<path d="M197.5 490.0 C198.6 486.3 201.7 475.2 203.9 467.7 C206.1 460.2 208.3 452.6 210.6 444.9 C212.9 437.2 215.2 429.0 217.5 421.6 C219.7 414.1 222.0 406.6 224.2 400.3 C226.3 394.0 228.5 388.3 230.7 383.9 C232.9 379.5 235.1 376.2 237.4 374.1 C239.7 372.0 242.1 371.6 244.3 371.5 C246.5 371.3 248.7 372.3 250.8 373.3 C252.8 374.2 254.7 375.5 256.7 377.0 C258.6 378.6 260.5 380.7 262.4 382.7 C264.3 384.7 266.1 386.8 267.9 388.9 C269.7 391.0 271.5 393.0 273.3 395.2 C275.1 397.4 277.1 399.6 278.8 402.0 C280.5 404.4 282.1 406.9 283.5 409.5 C285.0 412.1 286.2 414.8 287.5 417.4 C288.8 420.1 290.1 422.6 291.5 425.4 C292.9 428.1 294.4 430.9 296.0 433.9 C297.6 436.9 299.4 440.3 301.1 443.5 C302.7 446.8 304.4 450.3 306.2 453.4 C307.9 456.6 309.8 459.6 311.5 462.6 C313.2 465.5 315.0 468.2 316.6 471.0 C318.3 473.8 319.7 476.4 321.1 479.2 C322.6 482.0 324.0 484.8 325.5 487.6 C326.9 490.5 328.5 493.5 329.8 496.4 C331.0 499.3 332.2 502.3 333.2 505.0 C334.2 507.7 334.9 510.2 335.7 512.6 C336.5 515.1 337.1 517.1 338.0 519.5 C338.9 521.9 339.8 524.3 340.8 527.0 C341.8 529.6 343.0 532.4 344.1 535.3 C345.2 538.1 346.3 540.8 347.5 544.0 C348.6 547.2 349.8 550.8 351.0 554.5 C352.2 558.1 353.4 562.0 354.5 565.8 C355.6 569.6 356.4 572.6 357.8 577.2 C359.1 581.8 360.7 587.2 362.7 593.6 C364.7 599.9 367.6 608.7 369.7 615.2 C371.8 621.8 373.8 627.9 375.4 632.8 C377.0 637.7 378.0 640.9 379.3 644.7 C380.6 648.5 382.1 652.8 383.0 655.5 C383.9 658.3 384.5 659.9 385.0 661.4 C385.5 662.8 385.7 663.3 386.0 664.3 C386.3 665.2 386.7 666.2 387.0 667.1 C387.3 668.0 387.7 668.8 388.0 669.6 C388.3 670.5 388.7 671.3 389.0 672.2 C389.3 673.0 389.7 673.9 390.0 674.7 C390.3 675.5 390.7 676.3 391.0 677.1 C391.3 677.9 391.7 678.7 392.0 679.5 C392.3 680.2 392.7 681.0 393.0 681.8 C393.3 682.5 393.7 683.3 394.0 684.1 C394.3 684.9 394.7 685.6 395.0 686.4 C395.3 687.2 395.7 688.0 396.0 688.8 C396.3 689.6 396.7 690.4 397.0 691.2 C397.3 692.0 397.7 692.8 398.0 693.6 C398.3 694.4 398.7 695.2 399.0 695.9 C399.3 696.7 399.7 697.4 400.0 698.1 C400.3 698.9 400.7 699.6 401.0 700.3 C401.3 701.1 401.7 701.8 402.0 702.6 C402.3 703.3 402.7 704.0 403.0 704.8 C403.3 705.5 403.7 706.2 404.0 706.9 C404.3 707.7 404.7 708.4 405.0 709.1 C405.3 709.8 405.7 710.6 406.0 711.3 C406.3 712.0 406.7 712.8 407.0 713.5 C407.3 714.3 407.7 715.0 408.0 715.8 C408.3 716.5 408.7 717.2 409.0 718.0 C409.3 718.7 409.7 719.5 410.0 720.3 C410.3 721.0 410.7 721.8 411.0 722.5 C411.3 723.3 411.7 724.0 412.0 724.8 C412.3 725.6 412.7 726.3 413.0 727.1 C413.3 727.9 413.7 728.6 414.0 729.4 C414.3 730.2 414.7 730.9 415.0 731.7 C415.3 732.5 415.7 733.2 416.0 734.0 C416.3 734.8 416.7 735.5 417.0 736.3 C417.3 737.1 417.7 737.8 418.0 738.6 C418.3 739.4 418.7 740.1 419.0 740.9 C419.3 741.6 419.7 742.4 420.0 743.2 C420.3 743.9 420.7 744.7 421.0 745.4 C421.3 746.2 421.7 747.0 422.0 747.7 C422.3 748.5 422.7 749.2 423.0 750.0 C423.3 750.7 423.6 751.4 424.0 752.2 C424.4 753.1 424.8 754.1 425.2 755.0 C425.7 755.9 426.1 756.9 426.5 757.8 C426.9 758.7 427.3 759.6 427.8 760.5 C428.2 761.4 428.6 762.4 429.0 763.3 C429.4 764.2 429.8 765.1 430.2 766.0 C430.7 766.9 431.1 767.8 431.5 768.7 C431.9 769.6 432.3 770.5 432.8 771.4 C433.2 772.3 433.6 773.2 434.0 774.1 C434.4 774.9 434.8 775.8 435.2 776.7 C435.7 777.6 436.1 778.5 436.5 779.4 C436.9 780.2 437.3 781.1 437.8 782.0 C438.2 782.9 438.6 783.7 439.0 784.6 C439.4 785.5 439.8 786.3 440.2 787.2 C440.7 788.1 441.1 788.9 441.5 789.8 C441.9 790.6 442.3 791.5 442.8 792.3 C443.2 793.2 443.6 794.0 444.0 794.9 C444.4 795.7 444.8 796.6 445.2 797.4 C445.7 798.3 446.1 799.1 446.5 799.9 C446.9 800.8 447.3 801.6 447.8 802.4 C448.2 803.3 448.6 804.1 449.0 804.9 C449.4 805.8 449.8 806.6 450.2 807.4 C450.7 808.2 451.1 809.0 451.5 809.9 C451.9 810.7 452.3 811.5 452.8 812.3 C453.2 813.1 453.6 813.9 454.0 814.7 C454.4 815.5 454.8 816.3 455.2 817.1 C455.7 817.9 456.1 818.7 456.5 819.5 C456.9 820.3 457.3 821.1 457.8 821.9 C458.2 822.7 458.6 823.5 459.0 824.3 C459.4 825.1 459.8 825.9 460.2 826.6 C460.7 827.4 461.1 828.2 461.5 829.0 C461.9 829.8 462.3 830.5 462.8 831.3 C463.2 832.1 463.6 832.9 464.0 833.6 C464.4 834.4 464.8 835.2 465.2 835.9 C465.7 836.7 466.1 837.4 466.5 838.2 C466.9 839.0 467.3 839.7 467.8 840.5 C468.2 841.2 468.6 842.0 469.0 842.7 C469.4 843.5 469.8 844.2 470.2 845.0 C470.7 845.7 471.1 846.4 471.5 847.2 C471.9 847.9 472.3 848.7 472.8 849.4 C473.2 850.1 473.6 850.9 474.0 851.6 C474.4 852.3 474.8 853.1 475.2 853.8 C475.7 854.5 476.0 855.2 476.5 855.9 C477.0 856.7 477.5 857.7 478.0 858.5 C478.5 859.4 479.0 860.2 479.5 861.1 C480.0 861.9 480.5 862.8 481.0 863.6 C481.5 864.5 482.0 865.3 482.5 866.2 C483.0 867.0 483.5 867.8 484.0 868.7 C484.5 869.5 485.0 870.3 485.5 871.2 C486.0 872.0 486.5 872.8 487.0 873.6 C487.5 874.4 488.0 875.3 488.5 876.1 C489.0 876.9 489.5 877.7 490.0 878.5 C490.5 879.3 491.0 880.1 491.5 880.9 C492.0 881.7 492.5 882.5 493.0 883.3 C493.5 884.1 494.0 884.9 494.5 885.7 C495.0 886.5 495.5 887.3 496.0 888.0 C496.5 888.8 497.0 889.6 497.5 890.4 C498.0 891.1 498.5 891.9 499.0 892.7 C499.5 893.5 500.0 894.2 500.5 895.0 C501.0 895.7 501.5 896.5 502.0 897.3 C502.5 898.0 503.0 898.8 503.5 899.5 C504.0 900.3 504.5 901.0 505.0 901.8 C505.5 902.5 506.0 903.3 506.5 904.0 C507.0 904.7 507.5 905.5 508.0 906.2 C508.5 906.9 509.0 907.7 509.5 908.4 C510.0 909.1 510.5 909.8 511.0 910.6 C511.5 911.3 512.0 912.0 512.5 912.7 C513.0 913.4 513.5 914.1 514.0 914.9 C514.5 915.6 515.0 916.3 515.5 917.0 C516.0 917.7 516.5 918.4 517.0 919.1 C517.5 919.8 518.0 920.5 518.5 921.2 C519.0 921.9 519.5 922.5 520.0 923.2 C520.5 923.9 521.0 924.6 521.5 925.3 C522.0 926.0 522.5 926.6 523.0 927.3 C523.5 928.0 524.0 928.7 524.5 929.3 C525.0 930.0 525.5 930.6 526.0 931.3 C526.5 932.1 527.2 932.9 527.8 933.7 C528.3 934.4 528.9 935.2 529.5 935.9 C530.1 936.7 530.7 937.5 531.2 938.2 C531.8 939.0 532.4 939.7 533.0 940.5 C533.6 941.2 534.2 942.0 534.8 942.7 C535.3 943.4 535.9 944.2 536.5 944.9 C537.1 945.6 537.7 946.4 538.2 947.1 C538.8 947.8 539.4 948.5 540.0 949.2 C540.6 950.0 541.2 950.7 541.8 951.4 C542.3 952.1 542.9 952.8 543.5 953.5 C544.1 954.2 544.7 954.9 545.2 955.6 C545.8 956.3 546.4 957.0 547.0 957.7 C547.6 958.4 548.2 959.0 548.8 959.7 C549.3 960.4 549.9 961.1 550.5 961.8 C551.1 962.4 551.7 963.1 552.2 963.8 C552.8 964.4 553.4 965.1 554.0 965.8 C554.6 966.4 555.2 967.1 555.8 967.8 C556.3 968.4 556.9 969.1 557.5 969.7 C558.1 970.4 558.7 971.0 559.2 971.6 C559.8 972.3 560.4 972.9 561.0 973.6 C561.6 974.2 562.2 974.8 562.8 975.5 C563.3 976.1 563.9 976.7 564.5 977.3 C565.1 978.0 565.7 978.6 566.2 979.2 C566.8 979.8 567.4 980.4 568.0 981.0 C568.6 981.6 569.2 982.3 569.8 982.9 C570.3 983.5 570.9 984.0 571.5 984.7 C572.1 985.3 572.8 986.0 573.5 986.7 C574.2 987.4 574.8 988.0 575.5 988.7 C576.2 989.4 576.8 990.0 577.5 990.7 C578.2 991.4 578.8 992.0 579.5 992.7 C580.2 993.3 580.8 994.0 581.5 994.6 C582.2 995.3 582.8 995.9 583.5 996.5 C584.2 997.2 584.8 997.8 585.5 998.4 C586.2 999.1 586.8 999.7 587.5 1000.3 C588.2 1000.9 588.8 1001.6 589.5 1002.2 C590.2 1002.8 590.8 1003.4 591.5 1004.0 C592.2 1004.6 592.8 1005.2 593.5 1005.8 C594.2 1006.4 594.8 1007.0 595.5 1007.6 C596.2 1008.2 596.8 1008.8 597.5 1009.4 C598.2 1010.0 598.8 1010.5 599.5 1011.1 C600.2 1011.7 600.8 1012.3 601.5 1012.9 C602.2 1013.4 602.8 1014.0 603.5 1014.6 C604.2 1015.1 604.8 1015.7 605.5 1016.2 C606.2 1016.8 606.8 1017.4 607.5 1017.9 C608.2 1018.5 608.8 1019.0 609.5 1019.6 C610.2 1020.1 610.8 1020.7 611.5 1021.2 C612.2 1021.7 612.8 1022.3 613.5 1022.8 C614.2 1023.3 614.8 1023.9 615.5 1024.4 C616.2 1024.9 616.8 1025.4 617.5 1026.0 C618.2 1026.5 618.8 1027.0 619.5 1027.5 C620.2 1028.0 620.8 1028.5 621.5 1029.1 C622.2 1029.6 622.8 1030.0 623.5 1030.6 C624.2 1031.1 625.0 1031.7 625.8 1032.3 C626.5 1032.8 627.2 1033.4 628.0 1033.9 C628.8 1034.5 629.5 1035.0 630.2 1035.6 C631.0 1036.1 631.8 1036.6 632.5 1037.2 C633.2 1037.7 634.0 1038.3 634.8 1038.8 C635.5 1039.3 636.2 1039.8 637.0 1040.4 C637.8 1040.9 638.5 1041.4 639.2 1041.9 C640.0 1042.4 640.8 1042.9 641.5 1043.5 C642.2 1044.0 643.0 1044.5 643.8 1045.0 C644.5 1045.5 645.2 1046.0 646.0 1046.5 C646.8 1047.0 647.5 1047.5 648.2 1048.0 C649.0 1048.4 649.8 1048.9 650.5 1049.4 C651.2 1049.9 652.0 1050.4 652.8 1050.9 C653.5 1051.3 654.2 1051.8 655.0 1052.3 C655.8 1052.8 656.5 1053.2 657.2 1053.7 C658.0 1054.2 658.8 1054.6 659.5 1055.1 C660.2 1055.5 661.0 1056.0 661.8 1056.5 C662.5 1056.9 663.2 1057.4 664.0 1057.8 C664.8 1058.3 665.5 1058.7 666.2 1059.2 C667.0 1059.6 667.8 1060.0 668.5 1060.5 C669.2 1060.9 670.0 1061.4 670.8 1061.8 C671.5 1062.2 672.2 1062.7 673.0 1063.1 C673.8 1063.5 674.5 1063.9 675.2 1064.4 C676.0 1064.8 676.8 1065.2 677.5 1065.6 C678.2 1066.0 679.0 1066.5 679.8 1066.9 C680.5 1067.3 681.2 1067.7 682.0 1068.1 C682.8 1068.5 683.5 1068.9 684.2 1069.3 C685.0 1069.7 685.8 1070.1 686.5 1070.5 C687.2 1070.9 688.0 1071.3 688.8 1071.7 C689.5 1072.1 690.2 1072.5 691.0 1072.9 C691.8 1073.3 692.5 1073.7 693.2 1074.1 C694.0 1074.5 694.8 1074.9 695.5 1075.2 C696.2 1075.6 697.0 1076.0 697.8 1076.4 C698.5 1076.8 699.2 1077.1 700.0 1077.5 C700.8 1077.9 701.5 1078.3 702.2 1078.6 C703.0 1079.0 703.8 1079.4 704.5 1079.7 C705.2 1080.1 706.0 1080.4 706.8 1080.8 C707.5 1081.2 708.4 1081.6 709.2 1082.0 C710.1 1082.4 710.9 1082.8 711.8 1083.2 C712.6 1083.6 713.4 1084.0 714.2 1084.4 C715.1 1084.7 715.9 1085.1 716.8 1085.5 C717.6 1085.9 718.4 1086.3 719.2 1086.6 C720.1 1087.0 720.9 1087.4 721.8 1087.8 C722.6 1088.1 723.4 1088.5 724.2 1088.9 C725.1 1089.2 725.9 1089.6 726.8 1090.0 C727.6 1090.3 728.4 1090.7 729.2 1091.0 C730.1 1091.4 730.9 1091.7 731.8 1092.1 C732.6 1092.4 733.4 1092.8 734.2 1093.1 C735.1 1093.5 735.9 1093.8 736.8 1094.2 C737.6 1094.5 738.4 1094.8 739.2 1095.2 C740.1 1095.5 740.9 1095.9 741.8 1096.2 C742.6 1096.5 743.4 1096.8 744.2 1097.2 C745.1 1097.5 745.9 1097.8 746.8 1098.1 C747.6 1098.5 748.4 1098.8 749.2 1099.1 C750.1 1099.4 750.9 1099.7 751.8 1100.1 C752.6 1100.4 753.4 1100.7 754.2 1101.0 C755.1 1101.3 755.9 1101.6 756.8 1101.9 C757.6 1102.2 758.4 1102.5 759.2 1102.8 C760.1 1103.1 760.9 1103.4 761.8 1103.7 C762.6 1104.0 763.4 1104.3 764.2 1104.6 C765.1 1104.9 765.9 1105.2 766.8 1105.5 C767.6 1105.7 768.4 1106.0 769.2 1106.3 C770.1 1106.6 770.9 1106.9 771.8 1107.2 C772.6 1107.4 773.4 1107.7 774.2 1108.0 C775.1 1108.3 775.9 1108.5 776.8 1108.8 C777.6 1109.1 778.4 1109.3 779.2 1109.6 C780.1 1109.9 780.9 1110.1 781.8 1110.4 C782.6 1110.7 783.4 1110.9 784.2 1111.2 C785.1 1111.4 785.9 1111.7 786.8 1111.9 C787.6 1112.2 788.4 1112.5 789.2 1112.7 C790.1 1113.0 790.9 1113.2 791.8 1113.4 C792.6 1113.7 793.4 1113.9 794.2 1114.2 C795.1 1114.4 795.9 1114.7 796.8 1114.9 C797.6 1115.1 798.4 1115.4 799.2 1115.6 C800.1 1115.8 800.9 1116.1 801.8 1116.3 C802.6 1116.5 803.4 1116.8 804.2 1117.0 C805.1 1117.2 805.9 1117.5 806.8 1117.7 C807.6 1117.9 808.4 1118.1 809.2 1118.3 C810.1 1118.6 810.9 1118.8 811.8 1119.0 C812.6 1119.2 813.4 1119.4 814.2 1119.6 C815.1 1119.9 815.9 1120.1 816.8 1120.3 C817.6 1120.5 818.4 1120.7 819.2 1120.9 C820.1 1121.1 820.9 1121.3 821.8 1121.5 C822.6 1121.7 823.4 1121.9 824.2 1122.1 C825.1 1122.3 825.9 1122.5 826.8 1122.7 C827.6 1122.9 828.4 1123.1 829.2 1123.3 C830.1 1123.5 830.9 1123.7 831.8 1123.9 C832.6 1124.1 833.4 1124.3 834.2 1124.4 C835.1 1124.6 835.9 1124.8 836.8 1125.0 C837.6 1125.2 838.4 1125.4 839.2 1125.5 C840.1 1125.7 840.9 1125.9 841.8 1126.1 C842.6 1126.3 843.4 1126.4 844.2 1126.6 C845.1 1126.8 845.9 1127.0 846.8 1127.1 C847.6 1127.3 848.4 1127.5 849.2 1127.6 C850.1 1127.8 850.9 1128.0 851.8 1128.1 C852.6 1128.3 853.4 1128.5 854.2 1128.6 C855.1 1128.8 855.9 1129.0 856.8 1129.1 C857.6 1129.3 858.4 1129.4 859.2 1129.6 C860.1 1129.7 860.9 1129.9 861.8 1130.1 C862.6 1130.2 863.4 1130.4 864.2 1130.5 C865.1 1130.7 865.9 1130.8 866.8 1131.0 C867.6 1131.1 868.4 1131.3 869.2 1131.4 C870.1 1131.6 870.9 1131.7 871.8 1131.8 C872.6 1132.0 873.4 1132.1 874.2 1132.3 C875.1 1132.4 875.9 1132.6 876.8 1132.7 C877.6 1132.8 878.4 1133.0 879.2 1133.1 C880.1 1133.2 880.9 1133.4 881.8 1133.5 C882.6 1133.6 883.4 1133.8 884.2 1133.9 C885.1 1134.0 885.9 1134.2 886.8 1134.3 C887.6 1134.4 888.4 1134.6 889.2 1134.7 C890.1 1134.8 890.9 1134.9 891.8 1135.1 C892.6 1135.2 893.4 1135.3 894.2 1135.4 C895.1 1135.6 895.9 1135.7 896.8 1135.8 C897.6 1135.9 898.4 1136.0 899.2 1136.2 C900.1 1136.3 900.9 1136.4 901.8 1136.5 C902.6 1136.6 903.4 1136.7 904.2 1136.9 C905.1 1137.0 905.9 1137.1 906.8 1137.2 C907.6 1137.3 908.4 1137.4 909.2 1137.5 C910.1 1137.6 910.9 1137.8 911.8 1137.9 C912.6 1138.0 913.4 1138.1 914.2 1138.2 C915.1 1138.3 915.9 1138.4 916.8 1138.5 C917.6 1138.6 918.4 1138.7 919.2 1138.8 C920.1 1138.9 920.9 1139.0 921.8 1139.1 C922.6 1139.2 923.4 1139.3 924.2 1139.4 C925.1 1139.5 925.9 1139.6 926.8 1139.7 C927.6 1139.8 928.4 1139.9 929.2 1140.0 C930.1 1140.1 930.9 1140.2 931.8 1140.3 C932.6 1140.4 933.4 1140.5 934.2 1140.6 C935.1 1140.7 935.9 1140.8 936.8 1140.9 C937.6 1140.9 938.4 1141.0 939.2 1141.1 C940.1 1141.2 940.9 1141.3 941.8 1141.4 C942.6 1141.5 943.4 1141.6 944.2 1141.7 C945.1 1141.8 945.9 1141.8 946.8 1141.9 C947.6 1142.0 948.4 1142.1 949.2 1142.2 C950.1 1142.3 950.9 1142.4 951.8 1142.4 C952.6 1142.5 953.4 1142.6 954.2 1142.7 C955.1 1142.8 955.9 1142.8 956.8 1142.9 C957.6 1143.0 958.4 1143.1 959.2 1143.2 C960.1 1143.3 960.9 1143.3 961.8 1143.4 C962.6 1143.5 963.4 1143.6 964.2 1143.6 C965.1 1143.7 965.9 1143.8 966.8 1143.9 C967.6 1144.0 968.4 1144.0 969.2 1144.1 C970.1 1144.2 970.9 1144.3 971.8 1144.3 C972.6 1144.4 973.4 1144.5 974.2 1144.6 C975.1 1144.6 975.9 1144.7 976.8 1144.8 C977.6 1144.9 978.4 1144.9 979.2 1145.0 C980.1 1145.1 980.9 1145.1 981.8 1145.2 C982.6 1145.3 983.4 1145.4 984.2 1145.4 C985.1 1145.5 985.9 1145.6 986.8 1145.6 C987.6 1145.7 988.4 1145.8 989.2 1145.9 C990.1 1145.9 990.9 1146.0 991.8 1146.1 C992.6 1146.1 993.4 1146.2 994.2 1146.3 C995.1 1146.3 995.9 1146.4 996.8 1146.5 C997.6 1146.5 998.4 1146.6 999.2 1146.7 C1000.1 1146.7 1000.9 1146.8 1001.8 1146.9 C1002.6 1147.0 1003.4 1147.0 1004.2 1147.1 C1005.1 1147.2 1005.9 1147.2 1006.8 1147.3 C1007.6 1147.4 1008.4 1147.4 1009.2 1147.5 C1010.1 1147.6 1010.9 1147.6 1011.8 1147.7 C1012.6 1147.8 1013.4 1147.8 1014.2 1147.9 C1015.1 1147.9 1015.9 1148.0 1016.8 1148.1 C1017.6 1148.1 1018.4 1148.2 1019.2 1148.3 C1020.1 1148.3 1020.9 1148.4 1021.8 1148.5 C1022.6 1148.5 1023.4 1148.6 1024.2 1148.7 C1025.1 1148.7 1025.9 1148.8 1026.8 1148.9 C1027.6 1148.9 1028.4 1149.0 1029.2 1149.1 C1030.1 1149.1 1030.9 1149.2 1031.8 1149.3 C1032.6 1149.3 1033.4 1149.4 1034.2 1149.4 C1035.1 1149.5 1035.9 1149.6 1036.8 1149.6 C1037.6 1149.7 1038.4 1149.8 1039.2 1149.8 C1040.1 1149.9 1040.9 1150.0 1041.8 1150.0 C1042.6 1150.1 1043.4 1150.1 1044.2 1150.2 C1045.1 1150.3 1045.9 1150.3 1046.8 1150.4 C1047.6 1150.5 1048.4 1150.5 1049.2 1150.6 C1050.1 1150.7 1050.9 1150.7 1051.8 1150.8 C1052.6 1150.8 1053.4 1150.9 1054.2 1151.0 C1055.1 1151.0 1055.9 1151.1 1056.8 1151.2 C1057.6 1151.2 1058.4 1151.3 1059.2 1151.3 C1060.1 1151.4 1060.9 1151.5 1061.8 1151.5 C1062.6 1151.6 1063.4 1151.7 1064.2 1151.7 C1065.1 1151.8 1065.9 1151.8 1066.8 1151.9 C1067.6 1152.0 1068.4 1152.0 1069.2 1152.1 C1070.1 1152.1 1070.9 1152.2 1071.8 1152.3 C1072.6 1152.3 1073.4 1152.4 1074.2 1152.5 C1075.1 1152.5 1075.9 1152.6 1076.8 1152.6 C1077.6 1152.7 1078.4 1152.8 1079.2 1152.8 C1080.1 1152.9 1080.9 1152.9 1081.8 1153.0 C1082.6 1153.1 1083.4 1153.1 1084.2 1153.2 C1085.1 1153.2 1085.9 1153.3 1086.8 1153.4 C1087.6 1153.4 1088.4 1153.5 1089.2 1153.5 C1090.1 1153.6 1090.9 1153.7 1091.8 1153.7 C1092.6 1153.8 1093.4 1153.8 1094.2 1153.9 C1095.1 1154.0 1095.9 1154.0 1096.8 1154.1 C1097.6 1154.1 1098.4 1154.2 1099.2 1154.3 C1100.1 1154.3 1100.9 1154.4 1101.8 1154.4 C1102.6 1154.5 1103.4 1154.6 1104.2 1154.6 C1105.1 1154.7 1105.9 1154.7 1106.8 1154.8 C1107.6 1154.9 1108.4 1154.9 1109.2 1155.0 C1110.1 1155.0 1110.9 1155.1 1111.8 1155.2 C1112.6 1155.2 1113.4 1155.3 1114.2 1155.3 C1115.1 1155.4 1115.9 1155.4 1116.8 1155.5 C1117.6 1155.6 1118.4 1155.6 1119.2 1155.7 C1120.1 1155.7 1120.9 1155.8 1121.8 1155.8 C1122.6 1155.9 1123.4 1156.0 1124.2 1156.0 C1125.1 1156.1 1125.9 1156.1 1126.8 1156.2 C1127.6 1156.3 1128.4 1156.3 1129.2 1156.4 C1130.1 1156.4 1130.9 1156.5 1131.8 1156.5 C1132.6 1156.6 1133.4 1156.7 1134.2 1156.7 C1135.1 1156.8 1135.9 1156.8 1136.8 1156.9 C1137.6 1156.9 1138.4 1157.0 1139.2 1157.1 C1140.1 1157.1 1140.9 1157.2 1141.8 1157.2 C1142.6 1157.3 1143.4 1157.3 1144.2 1157.4 C1145.1 1157.4 1145.9 1157.5 1146.8 1157.6 C1147.6 1157.6 1148.4 1157.7 1149.2 1157.7 C1150.1 1157.8 1150.9 1157.8 1151.8 1157.9 C1152.6 1158.0 1153.4 1158.0 1154.2 1158.1 C1155.1 1158.1 1155.9 1158.2 1156.8 1158.2 C1157.6 1158.3 1158.4 1158.3 1159.2 1158.4 C1160.1 1158.5 1160.9 1158.5 1161.8 1158.6 C1162.6 1158.6 1163.4 1158.7 1164.2 1158.7 C1165.1 1158.8 1165.9 1158.8 1166.8 1158.9 C1167.6 1159.0 1168.4 1159.0 1169.2 1159.1 C1170.1 1159.1 1170.9 1159.2 1171.8 1159.2 C1172.6 1159.3 1173.4 1159.3 1174.2 1159.4 C1175.1 1159.4 1175.9 1159.5 1176.8 1159.6 C1177.6 1159.6 1178.4 1159.7 1179.2 1159.7 C1180.1 1159.8 1180.9 1159.8 1181.8 1159.9 C1182.6 1159.9 1183.4 1160.0 1184.2 1160.0 C1185.1 1160.1 1185.9 1160.1 1186.8 1160.2 C1187.6 1160.3 1188.4 1160.3 1189.2 1160.4 C1190.1 1160.4 1190.9 1160.5 1191.8 1160.5 C1192.6 1160.6 1193.4 1160.6 1194.2 1160.7 C1195.1 1160.7 1195.9 1160.8 1196.8 1160.8 C1197.6 1160.9 1198.4 1160.9 1199.2 1161.0 C1200.1 1161.1 1200.9 1161.1 1201.8 1161.2 C1202.6 1161.2 1203.4 1161.3 1204.2 1161.3 C1205.1 1161.4 1205.9 1161.4 1206.8 1161.5 C1207.6 1161.5 1208.4 1161.6 1209.2 1161.6 C1210.1 1161.7 1210.9 1161.7 1211.8 1161.8 C1212.6 1161.8 1213.4 1161.9 1214.2 1162.0 C1215.1 1162.0 1215.9 1162.1 1216.8 1162.1 C1217.6 1162.2 1218.4 1162.2 1219.2 1162.3 C1220.1 1162.3 1220.9 1162.4 1221.8 1162.4 C1222.6 1162.5 1223.4 1162.5 1224.2 1162.6 C1225.1 1162.6 1225.9 1162.7 1226.8 1162.7 C1227.6 1162.8 1228.4 1162.8 1229.2 1162.9 C1230.1 1162.9 1230.9 1163.0 1231.8 1163.0 C1232.6 1163.1 1233.4 1163.1 1234.2 1163.2 C1235.1 1163.2 1235.9 1163.3 1236.8 1163.3 C1237.6 1163.4 1238.4 1163.4 1239.2 1163.5 C1240.1 1163.6 1240.9 1163.6 1241.8 1163.7 C1242.6 1163.7 1243.4 1163.8 1244.2 1163.8 C1245.1 1163.9 1245.9 1163.9 1246.8 1164.0 C1247.6 1164.0 1248.4 1164.1 1249.2 1164.1 C1250.1 1164.2 1250.9 1164.2 1251.8 1164.3 C1252.6 1164.3 1253.4 1164.4 1254.2 1164.4 C1255.1 1164.5 1255.9 1164.5 1256.8 1164.6 C1257.6 1164.6 1258.4 1164.7 1259.2 1164.7 C1260.1 1164.8 1260.9 1164.8 1261.8 1164.9 C1262.6 1164.9 1263.4 1165.0 1264.2 1165.0 C1265.1 1165.1 1265.9 1165.1 1266.8 1165.2 C1267.6 1165.2 1268.4 1165.3 1269.2 1165.3 C1270.1 1165.4 1270.9 1165.4 1271.8 1165.5 C1272.6 1165.5 1273.4 1165.6 1274.2 1165.6 C1275.1 1165.7 1275.9 1165.7 1276.8 1165.8 C1277.6 1165.8 1278.4 1165.9 1279.2 1165.9 C1280.1 1166.0 1280.9 1166.0 1281.8 1166.0 C1282.6 1166.1 1283.4 1166.1 1284.2 1166.2 C1285.1 1166.2 1285.9 1166.3 1286.8 1166.3 C1287.6 1166.4 1288.4 1166.4 1289.2 1166.5 C1290.1 1166.5 1290.9 1166.6 1291.8 1166.6 C1292.6 1166.7 1293.4 1166.7 1294.2 1166.8 C1295.1 1166.8 1295.9 1166.9 1296.8 1166.9 C1297.6 1167.0 1298.4 1167.0 1299.2 1167.1 C1300.1 1167.1 1300.9 1167.2 1301.8 1167.2 C1302.6 1167.3 1303.4 1167.3 1304.2 1167.4 C1305.1 1167.4 1305.9 1167.5 1306.8 1167.5 C1307.6 1167.6 1308.4 1167.6 1309.2 1167.6 C1310.1 1167.7 1310.9 1167.7 1311.8 1167.8 C1312.6 1167.8 1313.4 1167.9 1314.2 1167.9 C1315.1 1168.0 1315.9 1168.0 1316.8 1168.1 C1317.6 1168.1 1318.4 1168.2 1319.2 1168.2 C1320.1 1168.3 1320.9 1168.3 1321.8 1168.4 C1322.6 1168.4 1323.4 1168.5 1324.2 1168.5 C1325.1 1168.6 1325.9 1168.6 1326.8 1168.6 C1327.6 1168.7 1328.4 1168.7 1329.2 1168.8 C1330.1 1168.8 1330.9 1168.9 1331.8 1168.9 C1332.6 1169.0 1333.4 1169.0 1334.2 1169.1 C1335.1 1169.1 1335.9 1169.2 1336.8 1169.2 C1337.6 1169.3 1338.4 1169.3 1339.2 1169.3 C1340.1 1169.4 1340.9 1169.4 1341.8 1169.5 C1342.6 1169.5 1343.4 1169.6 1344.2 1169.6 C1345.1 1169.7 1345.9 1169.7 1346.8 1169.8 C1347.6 1169.8 1348.4 1169.9 1349.2 1169.9 C1350.1 1170.0 1350.9 1170.0 1351.8 1170.0 C1352.6 1170.1 1353.4 1170.1 1354.2 1170.2 C1355.1 1170.2 1355.9 1170.3 1356.8 1170.3 C1357.6 1170.4 1358.4 1170.4 1359.2 1170.5 C1360.1 1170.5 1360.9 1170.6 1361.8 1170.6 C1362.6 1170.6 1363.4 1170.7 1364.2 1170.7 C1365.1 1170.8 1365.9 1170.8 1366.8 1170.9 C1367.6 1170.9 1368.4 1171.0 1369.2 1171.0 C1370.1 1171.1 1370.9 1171.1 1371.8 1171.1 C1372.6 1171.2 1373.4 1171.2 1374.2 1171.3 C1375.1 1171.3 1375.9 1171.4 1376.8 1171.4 C1377.6 1171.5 1378.4 1171.5 1379.2 1171.6 C1380.1 1171.6 1380.9 1171.7 1381.8 1171.7 C1382.6 1171.7 1383.4 1171.8 1384.2 1171.8 C1385.1 1171.9 1385.9 1171.9 1386.8 1172.0 C1387.6 1172.0 1388.4 1172.1 1389.2 1172.1 C1390.1 1172.1 1390.9 1172.2 1391.8 1172.2 C1392.6 1172.3 1393.4 1172.3 1394.2 1172.4 C1395.1 1172.4 1395.9 1172.5 1396.8 1172.5 C1397.6 1172.6 1398.4 1172.6 1399.2 1172.6 C1400.1 1172.7 1400.9 1172.7 1401.8 1172.8 C1402.6 1172.8 1403.4 1172.9 1404.2 1172.9 C1405.1 1173.0 1405.9 1173.0 1406.8 1173.0 C1407.6 1173.1 1408.4 1173.1 1409.2 1173.2 C1410.1 1173.2 1410.9 1173.3 1411.8 1173.3 C1412.6 1173.4 1413.4 1173.4 1414.2 1173.4 C1415.1 1173.5 1415.9 1173.5 1416.8 1173.6 C1417.6 1173.6 1418.4 1173.7 1419.2 1173.7 C1420.1 1173.8 1420.9 1173.8 1421.8 1173.8 C1422.6 1173.9 1423.4 1173.9 1424.2 1174.0 C1425.1 1174.0 1425.9 1174.1 1426.8 1174.1 C1427.6 1174.2 1428.4 1174.2 1429.2 1174.2 C1430.1 1174.3 1430.9 1174.3 1431.8 1174.4 C1432.6 1174.4 1433.4 1174.5 1434.2 1174.5 C1435.1 1174.6 1435.9 1174.6 1436.8 1174.6 C1437.6 1174.7 1438.4 1174.7 1439.2 1174.8 C1440.1 1174.8 1440.9 1174.9 1441.8 1174.9 C1442.6 1174.9 1443.4 1175.0 1444.2 1175.0 C1445.1 1175.1 1445.9 1175.1 1446.8 1175.2 C1447.6 1175.2 1448.4 1175.3 1449.2 1175.3 C1450.1 1175.3 1450.9 1175.4 1451.8 1175.4 C1452.6 1175.5 1453.4 1175.5 1454.2 1175.6 C1455.1 1175.6 1455.9 1175.6 1456.8 1175.7 C1457.6 1175.7 1458.4 1175.8 1459.2 1175.8 C1460.1 1175.9 1460.9 1175.9 1461.8 1175.9 C1462.6 1176.0 1463.4 1176.0 1464.2 1176.1 C1465.1 1176.1 1465.9 1176.2 1466.8 1176.2 C1467.6 1176.3 1468.4 1176.3 1469.2 1176.3 C1470.1 1176.4 1470.9 1176.4 1471.8 1176.5 C1472.6 1176.5 1473.4 1176.6 1474.2 1176.6 C1475.1 1176.6 1475.9 1176.7 1476.8 1176.7 C1477.6 1176.8 1478.4 1176.8 1479.2 1176.9 C1480.1 1176.9 1480.9 1176.9 1481.8 1177.0 C1482.6 1177.0 1483.4 1177.1 1484.2 1177.1 C1485.1 1177.2 1485.9 1177.2 1486.8 1177.2 C1487.6 1177.3 1488.4 1177.3 1489.2 1177.4 C1490.1 1177.4 1490.9 1177.5 1491.8 1177.5 C1492.6 1177.5 1493.4 1177.6 1494.2 1177.6 C1495.1 1177.7 1495.9 1177.7 1496.8 1177.8 C1497.6 1177.8 1498.4 1177.8 1499.2 1177.9 C1500.1 1177.9 1500.9 1178.0 1501.8 1178.0 C1502.6 1178.1 1503.4 1178.1 1504.2 1178.1 C1505.1 1178.2 1505.9 1178.2 1506.8 1178.3 C1507.6 1178.3 1508.4 1178.4 1509.2 1178.4 C1510.1 1178.4 1510.9 1178.5 1511.8 1178.5 C1512.6 1178.6 1513.4 1178.6 1514.2 1178.7 C1515.1 1178.7 1515.9 1178.7 1516.8 1178.8 C1517.6 1178.8 1518.4 1178.9 1519.2 1178.9 C1520.1 1179.0 1520.9 1179.0 1521.8 1179.0 C1522.6 1179.1 1523.4 1179.1 1524.2 1179.2 C1525.1 1179.2 1525.9 1179.3 1526.8 1179.3 C1527.6 1179.3 1528.4 1179.4 1529.2 1179.4 C1530.1 1179.5 1531.0 1179.5 1531.8 1179.6 C1532.5 1179.6 1533.2 1179.6 1533.5 1179.6" fill="none" stroke="#2ea866" stroke-width="4.5" stroke-linejoin="round"/>
<path d="M197.5 458.0 C198.6 454.0 201.7 442.2 203.9 434.3 C206.1 426.4 208.3 418.3 210.6 410.6 C212.9 402.8 215.3 394.9 217.5 387.9 C219.7 380.9 221.9 374.0 223.8 368.5 C225.6 363.1 227.0 359.0 228.3 355.3 C229.6 351.6 230.5 349.1 231.6 346.2 C232.7 343.3 233.9 340.5 235.1 338.0 C236.2 335.4 237.4 332.9 238.7 331.0 C240.0 329.1 241.2 327.8 242.6 326.7 C244.1 325.7 245.7 325.1 247.4 324.6 C249.1 324.2 250.8 324.1 252.8 324.3 C254.7 324.5 257.0 325.2 259.2 326.0 C261.3 326.8 263.7 328.1 265.6 329.0 C267.6 330.0 269.2 330.8 270.9 331.6 C272.7 332.5 274.6 333.1 276.4 334.2 C278.1 335.4 279.9 336.7 281.5 338.6 C283.1 340.4 284.4 342.7 286.0 345.1 C287.5 347.5 289.1 350.3 290.8 353.0 C292.4 355.6 294.2 358.4 295.9 360.9 C297.6 363.4 299.3 365.7 301.1 367.9 C302.8 370.2 304.6 372.2 306.6 374.3 C308.5 376.4 310.6 378.4 312.8 380.5 C314.9 382.6 317.2 384.6 319.5 386.7 C321.8 388.8 324.1 390.9 326.4 393.1 C328.6 395.2 330.8 397.4 333.0 399.8 C335.1 402.2 337.2 404.8 339.2 407.7 C341.2 410.6 343.2 413.9 345.0 417.2 C346.7 420.5 348.4 424.1 349.9 427.5 C351.5 430.9 352.8 434.4 354.1 437.8 C355.4 441.2 356.6 444.7 357.9 448.1 C359.1 451.6 360.4 455.0 361.6 458.5 C362.9 461.9 364.3 465.6 365.5 468.8 C366.6 472.0 367.7 474.9 368.7 477.6 C369.8 480.3 370.5 482.1 371.6 484.9 C372.8 487.8 374.2 490.9 375.6 494.6 C377.0 498.3 378.8 503.1 380.2 507.2 C381.7 511.3 383.1 515.5 384.4 519.2 C385.7 522.9 386.8 526.1 388.0 529.4 C389.2 532.6 390.3 535.6 391.5 538.8 C392.6 542.1 393.7 545.4 394.9 548.8 C396.1 552.2 397.3 555.8 398.5 559.1 C399.7 562.5 401.0 565.5 402.3 568.9 C403.6 572.3 404.8 575.5 406.2 579.3 C407.6 583.1 409.1 587.4 410.8 591.9 C412.5 596.3 414.5 601.0 416.3 605.7 C418.1 610.4 420.0 615.2 421.8 619.9 C423.6 624.6 425.4 629.3 427.1 633.7 C428.8 638.1 430.6 642.3 432.2 646.4 C433.8 650.4 435.3 654.2 436.9 658.0 C438.4 661.7 439.9 665.2 441.4 668.8 C443.0 672.5 444.6 676.1 446.2 679.9 C447.9 683.8 449.6 687.9 451.4 691.9 C453.1 695.8 454.9 699.9 456.6 703.6 C458.3 707.4 460.0 711.1 461.5 714.4 C463.0 717.7 464.3 720.6 465.5 723.4 C466.7 726.1 467.6 728.3 468.5 730.9 C469.4 733.4 470.1 735.9 471.0 738.6 C471.9 741.3 472.7 744.2 473.8 747.0 C475.0 749.9 476.4 752.9 477.8 755.7 C479.2 758.5 480.9 761.3 482.5 763.9 C484.1 766.6 485.8 769.1 487.6 771.7 C489.4 774.3 491.2 776.8 493.1 779.6 C495.0 782.4 496.8 785.1 498.8 788.3 C500.8 791.5 502.3 794.1 505.1 799.0 C507.9 803.9 512.5 812.2 515.8 817.9 C519.1 823.5 523.3 830.3 525.0 833.1 C526.7 835.9 525.7 834.2 526.0 834.7 C526.3 835.3 526.7 835.8 527.0 836.4 C527.3 837.0 527.7 837.5 528.0 838.1 C528.3 838.7 528.7 839.2 529.0 839.8 C529.3 840.4 529.7 840.9 530.0 841.5 C530.3 842.1 530.7 842.6 531.0 843.2 C531.3 843.8 531.7 844.3 532.0 844.9 C532.3 845.5 532.7 846.1 533.0 846.6 C533.3 847.2 533.7 847.7 534.0 848.3 C534.3 848.8 534.7 849.4 535.0 849.9 C535.3 850.4 535.7 851.0 536.0 851.5 C536.3 852.0 536.7 852.6 537.0 853.1 C537.3 853.7 537.7 854.2 538.0 854.7 C538.3 855.3 538.7 855.8 539.0 856.4 C539.3 856.9 539.7 857.5 540.0 858.0 C540.3 858.5 540.7 859.1 541.0 859.6 C541.3 860.2 541.7 860.7 542.0 861.2 C542.3 861.8 542.7 862.3 543.0 862.9 C543.3 863.4 543.7 863.9 544.0 864.5 C544.3 865.0 544.7 865.5 545.0 866.1 C545.3 866.6 545.7 867.1 546.0 867.7 C546.3 868.2 546.7 868.7 547.0 869.3 C547.3 869.8 547.7 870.3 548.0 870.8 C548.3 871.4 548.7 871.9 549.0 872.4 C549.3 872.9 549.7 873.5 550.0 874.0 C550.3 874.5 550.7 875.0 551.0 875.5 C551.3 876.0 551.7 876.5 552.0 877.0 C552.3 877.6 552.7 878.1 553.0 878.6 C553.3 879.1 553.7 879.6 554.0 880.1 C554.3 880.6 554.7 881.0 555.0 881.5 C555.3 882.0 555.7 882.5 556.0 883.0 C556.3 883.5 556.7 883.9 557.0 884.4 C557.3 884.9 557.7 885.4 558.0 885.9 C558.3 886.3 558.7 886.8 559.0 887.3 C559.3 887.8 559.7 888.2 560.0 888.7 C560.3 889.2 560.7 889.6 561.0 890.1 C561.3 890.6 561.7 891.0 562.0 891.5 C562.3 891.9 562.7 892.4 563.0 892.8 C563.3 893.3 563.6 893.6 564.0 894.2 C564.4 894.8 565.0 895.5 565.5 896.2 C566.0 896.9 566.7 897.8 567.2 898.5 C567.8 899.3 568.4 900.1 569.0 900.9 C569.6 901.6 570.2 902.4 570.8 903.1 C571.3 903.9 571.9 904.7 572.5 905.4 C573.1 906.2 573.7 906.9 574.2 907.7 C574.8 908.4 575.4 909.2 576.0 909.9 C576.6 910.6 577.2 911.4 577.8 912.1 C578.3 912.9 578.9 913.6 579.5 914.3 C580.1 915.0 580.7 915.8 581.2 916.5 C581.8 917.2 582.4 917.9 583.0 918.7 C583.6 919.4 584.2 920.1 584.8 920.8 C585.3 921.5 585.9 922.2 586.5 922.9 C587.1 923.6 587.7 924.3 588.2 925.0 C588.8 925.7 589.4 926.4 590.0 927.1 C590.6 927.8 591.2 928.5 591.8 929.2 C592.3 929.9 592.9 930.6 593.5 931.3 C594.1 932.0 594.7 932.6 595.2 933.3 C595.8 934.0 596.4 934.7 597.0 935.4 C597.6 936.0 598.2 936.7 598.8 937.4 C599.3 938.0 599.9 938.7 600.5 939.4 C601.1 940.0 601.7 940.7 602.2 941.4 C602.8 942.0 603.4 942.7 604.0 943.3 C604.6 944.0 605.2 944.6 605.8 945.3 C606.3 945.9 606.9 946.6 607.5 947.2 C608.1 947.8 608.7 948.5 609.2 949.1 C609.8 949.8 610.4 950.4 611.0 951.0 C611.6 951.7 612.2 952.3 612.8 952.9 C613.3 953.5 613.9 954.2 614.5 954.8 C615.1 955.4 615.7 956.0 616.2 956.6 C616.8 957.3 617.4 957.9 618.0 958.5 C618.6 959.1 619.2 959.7 619.8 960.3 C620.3 960.9 620.9 961.5 621.5 962.1 C622.1 962.7 622.6 963.3 623.2 963.9 C623.9 964.6 624.6 965.3 625.2 966.0 C625.9 966.6 626.6 967.3 627.2 968.0 C627.9 968.7 628.6 969.3 629.2 970.0 C629.9 970.7 630.6 971.3 631.2 972.0 C631.9 972.6 632.6 973.3 633.2 973.9 C633.9 974.6 634.6 975.2 635.2 975.9 C635.9 976.5 636.6 977.2 637.2 977.8 C637.9 978.4 638.6 979.1 639.2 979.7 C639.9 980.3 640.6 981.0 641.2 981.6 C641.9 982.2 642.6 982.8 643.2 983.5 C643.9 984.1 644.6 984.7 645.2 985.3 C645.9 985.9 646.6 986.5 647.2 987.1 C647.9 987.7 648.6 988.3 649.2 988.9 C649.9 989.5 650.6 990.1 651.2 990.7 C651.9 991.3 652.6 991.9 653.2 992.5 C653.9 993.1 654.6 993.7 655.2 994.3 C655.9 994.9 656.6 995.4 657.2 996.0 C657.9 996.6 658.6 997.2 659.2 997.7 C659.9 998.3 660.6 998.9 661.2 999.4 C661.9 1000.0 662.6 1000.6 663.2 1001.1 C663.9 1001.7 664.6 1002.3 665.2 1002.8 C665.9 1003.4 666.6 1003.9 667.2 1004.5 C667.9 1005.0 668.6 1005.6 669.2 1006.1 C669.9 1006.6 670.6 1007.2 671.2 1007.7 C671.9 1008.3 672.6 1008.8 673.2 1009.3 C673.9 1009.9 674.6 1010.4 675.2 1010.9 C675.9 1011.4 676.6 1012.0 677.2 1012.5 C677.9 1013.0 678.6 1013.5 679.2 1014.0 C679.9 1014.5 680.6 1015.1 681.2 1015.6 C681.9 1016.1 682.6 1016.6 683.2 1017.1 C683.9 1017.6 684.5 1018.1 685.2 1018.6 C686.0 1019.1 686.8 1019.7 687.5 1020.3 C688.2 1020.8 689.0 1021.4 689.8 1021.9 C690.5 1022.5 691.2 1023.0 692.0 1023.6 C692.8 1024.1 693.5 1024.6 694.2 1025.2 C695.0 1025.7 695.8 1026.2 696.5 1026.8 C697.2 1027.3 698.0 1027.8 698.8 1028.3 C699.5 1028.9 700.2 1029.4 701.0 1029.9 C701.8 1030.4 702.5 1030.9 703.2 1031.4 C704.0 1031.9 704.8 1032.4 705.5 1032.9 C706.2 1033.4 707.0 1033.9 707.8 1034.4 C708.5 1034.9 709.2 1035.4 710.0 1035.9 C710.8 1036.4 711.5 1036.9 712.2 1037.4 C713.0 1037.9 713.8 1038.3 714.5 1038.8 C715.2 1039.3 716.0 1039.8 716.8 1040.2 C717.5 1040.7 718.2 1041.2 719.0 1041.6 C719.8 1042.1 720.5 1042.6 721.2 1043.0 C722.0 1043.5 722.8 1043.9 723.5 1044.4 C724.2 1044.8 725.0 1045.3 725.8 1045.7 C726.5 1046.2 727.2 1046.6 728.0 1047.1 C728.8 1047.5 729.5 1047.9 730.2 1048.4 C731.0 1048.8 731.8 1049.2 732.5 1049.7 C733.2 1050.1 734.0 1050.5 734.8 1051.0 C735.5 1051.4 736.2 1051.8 737.0 1052.2 C737.8 1052.6 738.5 1053.0 739.2 1053.5 C740.0 1053.9 740.8 1054.3 741.5 1054.7 C742.2 1055.1 743.0 1055.5 743.8 1055.9 C744.5 1056.3 745.2 1056.7 746.0 1057.1 C746.8 1057.5 747.5 1057.9 748.2 1058.3 C749.0 1058.7 749.8 1059.0 750.5 1059.4 C751.2 1059.8 752.0 1060.2 752.8 1060.6 C753.5 1061.0 754.2 1061.3 755.0 1061.7 C755.8 1062.1 756.5 1062.5 757.2 1062.8 C758.0 1063.2 758.7 1063.5 759.5 1063.9 C760.3 1064.3 761.2 1064.7 762.0 1065.1 C762.8 1065.5 763.7 1065.9 764.5 1066.3 C765.3 1066.7 766.2 1067.1 767.0 1067.5 C767.8 1067.9 768.7 1068.2 769.5 1068.6 C770.3 1069.0 771.2 1069.4 772.0 1069.7 C772.8 1070.1 773.7 1070.5 774.5 1070.9 C775.3 1071.2 776.2 1071.6 777.0 1071.9 C777.8 1072.3 778.7 1072.7 779.5 1073.0 C780.3 1073.4 781.2 1073.7 782.0 1074.1 C782.8 1074.4 783.7 1074.8 784.5 1075.1 C785.3 1075.5 786.2 1075.8 787.0 1076.1 C787.8 1076.5 788.7 1076.8 789.5 1077.1 C790.3 1077.5 791.2 1077.8 792.0 1078.1 C792.8 1078.5 793.7 1078.8 794.5 1079.1 C795.3 1079.4 796.2 1079.7 797.0 1080.1 C797.8 1080.4 798.7 1080.7 799.5 1081.0 C800.3 1081.3 801.2 1081.6 802.0 1081.9 C802.8 1082.2 803.7 1082.5 804.5 1082.8 C805.3 1083.1 806.2 1083.4 807.0 1083.7 C807.8 1084.0 808.7 1084.3 809.5 1084.6 C810.3 1084.9 811.2 1085.2 812.0 1085.5 C812.8 1085.7 813.7 1086.0 814.5 1086.3 C815.3 1086.6 816.2 1086.9 817.0 1087.1 C817.8 1087.4 818.7 1087.7 819.5 1088.0 C820.3 1088.2 821.2 1088.5 822.0 1088.8 C822.8 1089.0 823.7 1089.3 824.5 1089.5 C825.3 1089.8 826.2 1090.1 827.0 1090.3 C827.8 1090.6 828.7 1090.8 829.5 1091.1 C830.3 1091.3 831.2 1091.6 832.0 1091.8 C832.8 1092.1 833.7 1092.3 834.5 1092.6 C835.3 1092.8 836.2 1093.1 837.0 1093.3 C837.8 1093.5 838.7 1093.8 839.5 1094.0 C840.3 1094.2 841.2 1094.5 842.0 1094.7 C842.8 1094.9 843.7 1095.2 844.5 1095.4 C845.3 1095.6 846.2 1095.8 847.0 1096.1 C847.8 1096.3 848.7 1096.5 849.5 1096.7 C850.3 1096.9 851.2 1097.1 852.0 1097.4 C852.8 1097.6 853.7 1097.8 854.5 1098.0 C855.3 1098.2 856.2 1098.4 857.0 1098.6 C857.8 1098.8 858.7 1099.0 859.5 1099.2 C860.3 1099.4 861.2 1099.6 862.0 1099.8 C862.8 1100.0 863.7 1100.2 864.5 1100.4 C865.3 1100.6 866.2 1100.8 867.0 1101.0 C867.8 1101.2 868.7 1101.4 869.5 1101.6 C870.3 1101.8 871.2 1102.0 872.0 1102.2 C872.8 1102.3 873.7 1102.5 874.5 1102.7 C875.3 1102.9 876.2 1103.1 877.0 1103.2 C877.8 1103.4 878.7 1103.6 879.5 1103.8 C880.3 1104.0 881.2 1104.1 882.0 1104.3 C882.8 1104.5 883.7 1104.6 884.5 1104.8 C885.3 1105.0 886.2 1105.2 887.0 1105.3 C887.8 1105.5 888.7 1105.7 889.5 1105.8 C890.3 1106.0 891.2 1106.1 892.0 1106.3 C892.8 1106.5 893.7 1106.6 894.5 1106.8 C895.3 1106.9 896.2 1107.1 897.0 1107.3 C897.8 1107.4 898.7 1107.6 899.5 1107.7 C900.3 1107.9 901.2 1108.0 902.0 1108.2 C902.8 1108.3 903.7 1108.5 904.5 1108.6 C905.3 1108.8 906.2 1108.9 907.0 1109.1 C907.8 1109.2 908.7 1109.4 909.5 1109.5 C910.3 1109.6 911.2 1109.8 912.0 1109.9 C912.8 1110.1 913.7 1110.2 914.5 1110.3 C915.3 1110.5 916.2 1110.6 917.0 1110.8 C917.8 1110.9 918.7 1111.0 919.5 1111.2 C920.3 1111.3 921.2 1111.4 922.0 1111.6 C922.8 1111.7 923.7 1111.8 924.5 1112.0 C925.3 1112.1 926.2 1112.2 927.0 1112.4 C927.8 1112.5 928.7 1112.6 929.5 1112.7 C930.3 1112.9 931.2 1113.0 932.0 1113.1 C932.8 1113.2 933.7 1113.4 934.5 1113.5 C935.3 1113.6 936.2 1113.7 937.0 1113.9 C937.8 1114.0 938.7 1114.1 939.5 1114.2 C940.3 1114.3 941.2 1114.5 942.0 1114.6 C942.8 1114.7 943.7 1114.8 944.5 1114.9 C945.3 1115.1 946.2 1115.2 947.0 1115.3 C947.8 1115.4 948.7 1115.5 949.5 1115.6 C950.3 1115.8 951.2 1115.9 952.0 1116.0 C952.8 1116.1 953.7 1116.2 954.5 1116.3 C955.3 1116.4 956.2 1116.5 957.0 1116.7 C957.8 1116.8 958.7 1116.9 959.5 1117.0 C960.3 1117.1 961.2 1117.2 962.0 1117.3 C962.8 1117.4 963.7 1117.5 964.5 1117.7 C965.3 1117.8 966.2 1117.9 967.0 1118.0 C967.8 1118.1 968.7 1118.2 969.5 1118.3 C970.3 1118.4 971.2 1118.5 972.0 1118.6 C972.8 1118.7 973.7 1118.8 974.5 1119.0 C975.3 1119.1 976.2 1119.2 977.0 1119.3 C977.8 1119.4 978.7 1119.5 979.5 1119.6 C980.3 1119.7 981.2 1119.8 982.0 1119.9 C982.8 1120.0 983.7 1120.1 984.5 1120.2 C985.3 1120.3 986.2 1120.4 987.0 1120.5 C987.8 1120.6 988.7 1120.7 989.5 1120.8 C990.3 1120.9 991.2 1121.0 992.0 1121.1 C992.8 1121.2 993.7 1121.3 994.5 1121.4 C995.3 1121.6 996.2 1121.7 997.0 1121.8 C997.8 1121.9 998.7 1122.0 999.5 1122.1 C1000.3 1122.2 1001.2 1122.3 1002.0 1122.4 C1002.8 1122.5 1003.7 1122.6 1004.5 1122.7 C1005.3 1122.8 1006.2 1122.9 1007.0 1123.0 C1007.8 1123.0 1008.7 1123.1 1009.5 1123.2 C1010.3 1123.3 1011.2 1123.4 1012.0 1123.5 C1012.8 1123.6 1013.7 1123.7 1014.5 1123.8 C1015.3 1123.9 1016.2 1124.0 1017.0 1124.1 C1017.8 1124.2 1018.7 1124.3 1019.5 1124.4 C1020.3 1124.5 1021.2 1124.6 1022.0 1124.7 C1022.8 1124.8 1023.7 1124.9 1024.5 1125.0 C1025.3 1125.1 1026.2 1125.2 1027.0 1125.3 C1027.8 1125.4 1028.7 1125.4 1029.5 1125.5 C1030.3 1125.6 1031.2 1125.7 1032.0 1125.8 C1032.8 1125.9 1033.7 1126.0 1034.5 1126.1 C1035.3 1126.2 1036.2 1126.3 1037.0 1126.4 C1037.8 1126.5 1038.7 1126.6 1039.5 1126.6 C1040.3 1126.7 1041.2 1126.8 1042.0 1126.9 C1042.8 1127.0 1043.7 1127.1 1044.5 1127.2 C1045.3 1127.3 1046.2 1127.4 1047.0 1127.5 C1047.8 1127.5 1048.7 1127.6 1049.5 1127.7 C1050.3 1127.8 1051.2 1127.9 1052.0 1128.0 C1052.8 1128.1 1053.7 1128.2 1054.5 1128.3 C1055.3 1128.3 1056.2 1128.4 1057.0 1128.5 C1057.8 1128.6 1058.7 1128.7 1059.5 1128.8 C1060.3 1128.9 1061.2 1128.9 1062.0 1129.0 C1062.8 1129.1 1063.7 1129.2 1064.5 1129.3 C1065.3 1129.4 1066.2 1129.5 1067.0 1129.5 C1067.8 1129.6 1068.7 1129.7 1069.5 1129.8 C1070.3 1129.9 1071.2 1130.0 1072.0 1130.1 C1072.8 1130.1 1073.7 1130.2 1074.5 1130.3 C1075.3 1130.4 1076.2 1130.5 1077.0 1130.6 C1077.8 1130.6 1078.7 1130.7 1079.5 1130.8 C1080.3 1130.9 1081.2 1131.0 1082.0 1131.1 C1082.8 1131.1 1083.7 1131.2 1084.5 1131.3 C1085.3 1131.4 1086.2 1131.5 1087.0 1131.5 C1087.8 1131.6 1088.7 1131.7 1089.5 1131.8 C1090.3 1131.9 1091.2 1131.9 1092.0 1132.0 C1092.8 1132.1 1093.7 1132.2 1094.5 1132.3 C1095.3 1132.3 1096.2 1132.4 1097.0 1132.5 C1097.8 1132.6 1098.7 1132.7 1099.5 1132.7 C1100.3 1132.8 1101.2 1132.9 1102.0 1133.0 C1102.8 1133.1 1103.7 1133.1 1104.5 1133.2 C1105.3 1133.3 1106.2 1133.4 1107.0 1133.4 C1107.8 1133.5 1108.7 1133.6 1109.5 1133.7 C1110.3 1133.7 1111.2 1133.8 1112.0 1133.9 C1112.8 1134.0 1113.7 1134.1 1114.5 1134.1 C1115.3 1134.2 1116.2 1134.3 1117.0 1134.4 C1117.8 1134.4 1118.7 1134.5 1119.5 1134.6 C1120.3 1134.7 1121.2 1134.7 1122.0 1134.8 C1122.8 1134.9 1123.7 1135.0 1124.5 1135.0 C1125.3 1135.1 1126.2 1135.2 1127.0 1135.2 C1127.8 1135.3 1128.7 1135.4 1129.5 1135.5 C1130.3 1135.5 1131.2 1135.6 1132.0 1135.7 C1132.8 1135.8 1133.7 1135.8 1134.5 1135.9 C1135.3 1136.0 1136.2 1136.0 1137.0 1136.1 C1137.8 1136.2 1138.7 1136.3 1139.5 1136.3 C1140.3 1136.4 1141.2 1136.5 1142.0 1136.5 C1142.8 1136.6 1143.7 1136.7 1144.5 1136.8 C1145.3 1136.8 1146.2 1136.9 1147.0 1137.0 C1147.8 1137.0 1148.7 1137.1 1149.5 1137.2 C1150.3 1137.3 1151.2 1137.3 1152.0 1137.4 C1152.8 1137.5 1153.7 1137.5 1154.5 1137.6 C1155.3 1137.7 1156.2 1137.7 1157.0 1137.8 C1157.8 1137.9 1158.7 1137.9 1159.5 1138.0 C1160.3 1138.1 1161.2 1138.1 1162.0 1138.2 C1162.8 1138.3 1163.7 1138.3 1164.5 1138.4 C1165.3 1138.5 1166.2 1138.5 1167.0 1138.6 C1167.8 1138.7 1168.7 1138.7 1169.5 1138.8 C1170.3 1138.9 1171.2 1138.9 1172.0 1139.0 C1172.8 1139.1 1173.7 1139.1 1174.5 1139.2 C1175.3 1139.3 1176.2 1139.3 1177.0 1139.4 C1177.8 1139.5 1178.7 1139.5 1179.5 1139.6 C1180.3 1139.7 1181.2 1139.7 1182.0 1139.8 C1182.8 1139.9 1183.7 1139.9 1184.5 1140.0 C1185.3 1140.1 1186.2 1140.1 1187.0 1140.2 C1187.8 1140.2 1188.7 1140.3 1189.5 1140.4 C1190.3 1140.4 1191.2 1140.5 1192.0 1140.6 C1192.8 1140.6 1193.7 1140.7 1194.5 1140.8 C1195.3 1140.8 1196.2 1140.9 1197.0 1140.9 C1197.8 1141.0 1198.7 1141.1 1199.5 1141.1 C1200.3 1141.2 1201.2 1141.3 1202.0 1141.3 C1202.8 1141.4 1203.7 1141.4 1204.5 1141.5 C1205.3 1141.6 1206.2 1141.6 1207.0 1141.7 C1207.8 1141.7 1208.7 1141.8 1209.5 1141.9 C1210.3 1141.9 1211.2 1142.0 1212.0 1142.1 C1212.8 1142.1 1213.7 1142.2 1214.5 1142.2 C1215.3 1142.3 1216.2 1142.4 1217.0 1142.4 C1217.8 1142.5 1218.7 1142.5 1219.5 1142.6 C1220.3 1142.7 1221.2 1142.7 1222.0 1142.8 C1222.8 1142.8 1223.7 1142.9 1224.5 1142.9 C1225.3 1143.0 1226.2 1143.1 1227.0 1143.1 C1227.8 1143.2 1228.7 1143.2 1229.5 1143.3 C1230.3 1143.4 1231.2 1143.4 1232.0 1143.5 C1232.8 1143.5 1233.7 1143.6 1234.5 1143.6 C1235.3 1143.7 1236.2 1143.8 1237.0 1143.8 C1237.8 1143.9 1238.7 1143.9 1239.5 1144.0 C1240.3 1144.1 1241.2 1144.1 1242.0 1144.2 C1242.8 1144.2 1243.7 1144.3 1244.5 1144.3 C1245.3 1144.4 1246.2 1144.4 1247.0 1144.5 C1247.8 1144.6 1248.7 1144.6 1249.5 1144.7 C1250.3 1144.7 1251.2 1144.8 1252.0 1144.8 C1252.8 1144.9 1253.7 1145.0 1254.5 1145.0 C1255.3 1145.1 1256.2 1145.1 1257.0 1145.2 C1257.8 1145.2 1258.7 1145.3 1259.5 1145.3 C1260.3 1145.4 1261.2 1145.4 1262.0 1145.5 C1262.8 1145.6 1263.7 1145.6 1264.5 1145.7 C1265.3 1145.7 1266.2 1145.8 1267.0 1145.8 C1267.8 1145.9 1268.7 1145.9 1269.5 1146.0 C1270.3 1146.0 1271.2 1146.1 1272.0 1146.2 C1272.8 1146.2 1273.7 1146.3 1274.5 1146.3 C1275.3 1146.4 1276.2 1146.4 1277.0 1146.5 C1277.8 1146.5 1278.7 1146.6 1279.5 1146.6 C1280.3 1146.7 1281.2 1146.7 1282.0 1146.8 C1282.8 1146.8 1283.7 1146.9 1284.5 1146.9 C1285.3 1147.0 1286.2 1147.1 1287.0 1147.1 C1287.8 1147.2 1288.7 1147.2 1289.5 1147.3 C1290.3 1147.3 1291.2 1147.4 1292.0 1147.4 C1292.8 1147.5 1293.7 1147.5 1294.5 1147.6 C1295.3 1147.6 1296.2 1147.7 1297.0 1147.7 C1297.8 1147.8 1298.7 1147.8 1299.5 1147.9 C1300.3 1147.9 1301.2 1148.0 1302.0 1148.0 C1302.8 1148.1 1303.7 1148.1 1304.5 1148.2 C1305.3 1148.2 1306.2 1148.3 1307.0 1148.3 C1307.8 1148.4 1308.7 1148.4 1309.5 1148.5 C1310.3 1148.5 1311.2 1148.6 1312.0 1148.6 C1312.8 1148.7 1313.7 1148.7 1314.5 1148.8 C1315.3 1148.8 1316.2 1148.9 1317.0 1148.9 C1317.8 1149.0 1318.7 1149.0 1319.5 1149.1 C1320.3 1149.1 1321.2 1149.2 1322.0 1149.2 C1322.8 1149.3 1323.7 1149.3 1324.5 1149.4 C1325.3 1149.4 1326.2 1149.5 1327.0 1149.5 C1327.8 1149.6 1328.7 1149.6 1329.5 1149.7 C1330.3 1149.7 1331.2 1149.8 1332.0 1149.8 C1332.8 1149.9 1333.7 1149.9 1334.5 1150.0 C1335.3 1150.0 1336.2 1150.1 1337.0 1150.1 C1337.8 1150.2 1338.7 1150.2 1339.5 1150.3 C1340.3 1150.3 1341.2 1150.4 1342.0 1150.4 C1342.8 1150.5 1343.7 1150.5 1344.5 1150.6 C1345.3 1150.6 1346.2 1150.6 1347.0 1150.7 C1347.8 1150.7 1348.7 1150.8 1349.5 1150.8 C1350.3 1150.9 1351.2 1150.9 1352.0 1151.0 C1352.8 1151.0 1353.7 1151.1 1354.5 1151.1 C1355.3 1151.2 1356.2 1151.2 1357.0 1151.3 C1357.8 1151.3 1358.7 1151.4 1359.5 1151.4 C1360.3 1151.5 1361.2 1151.5 1362.0 1151.5 C1362.8 1151.6 1363.7 1151.6 1364.5 1151.7 C1365.3 1151.7 1366.2 1151.8 1367.0 1151.8 C1367.8 1151.9 1368.7 1151.9 1369.5 1152.0 C1370.3 1152.0 1371.2 1152.1 1372.0 1152.1 C1372.8 1152.2 1373.7 1152.2 1374.5 1152.2 C1375.3 1152.3 1376.2 1152.3 1377.0 1152.4 C1377.8 1152.4 1378.7 1152.5 1379.5 1152.5 C1380.3 1152.6 1381.2 1152.6 1382.0 1152.7 C1382.8 1152.7 1383.7 1152.8 1384.5 1152.8 C1385.3 1152.8 1386.2 1152.9 1387.0 1152.9 C1387.8 1153.0 1388.7 1153.0 1389.5 1153.1 C1390.3 1153.1 1391.2 1153.2 1392.0 1153.2 C1392.8 1153.3 1393.7 1153.3 1394.5 1153.4 C1395.3 1153.4 1396.2 1153.4 1397.0 1153.5 C1397.8 1153.5 1398.7 1153.6 1399.5 1153.6 C1400.3 1153.7 1401.2 1153.7 1402.0 1153.8 C1402.8 1153.8 1403.7 1153.9 1404.5 1153.9 C1405.3 1153.9 1406.2 1154.0 1407.0 1154.0 C1407.8 1154.1 1408.7 1154.1 1409.5 1154.2 C1410.3 1154.2 1411.2 1154.3 1412.0 1154.3 C1412.8 1154.4 1413.7 1154.4 1414.5 1154.4 C1415.3 1154.5 1416.2 1154.5 1417.0 1154.6 C1417.8 1154.6 1418.7 1154.7 1419.5 1154.7 C1420.3 1154.8 1421.2 1154.8 1422.0 1154.8 C1422.8 1154.9 1423.7 1154.9 1424.5 1155.0 C1425.3 1155.0 1426.2 1155.1 1427.0 1155.1 C1427.8 1155.2 1428.7 1155.2 1429.5 1155.2 C1430.3 1155.3 1431.2 1155.3 1432.0 1155.4 C1432.8 1155.4 1433.7 1155.5 1434.5 1155.5 C1435.3 1155.6 1436.2 1155.6 1437.0 1155.7 C1437.8 1155.7 1438.7 1155.7 1439.5 1155.8 C1440.3 1155.8 1441.2 1155.9 1442.0 1155.9 C1442.8 1156.0 1443.7 1156.0 1444.5 1156.1 C1445.3 1156.1 1446.2 1156.1 1447.0 1156.2 C1447.8 1156.2 1448.7 1156.3 1449.5 1156.3 C1450.3 1156.4 1451.2 1156.4 1452.0 1156.5 C1452.8 1156.5 1453.7 1156.5 1454.5 1156.6 C1455.3 1156.6 1456.2 1156.7 1457.0 1156.7 C1457.8 1156.8 1458.7 1156.8 1459.5 1156.9 C1460.3 1156.9 1461.2 1156.9 1462.0 1157.0 C1462.8 1157.0 1463.7 1157.1 1464.5 1157.1 C1465.3 1157.2 1466.2 1157.2 1467.0 1157.3 C1467.8 1157.3 1468.7 1157.3 1469.5 1157.4 C1470.3 1157.4 1471.2 1157.5 1472.0 1157.5 C1472.8 1157.6 1473.7 1157.6 1474.5 1157.7 C1475.3 1157.7 1476.2 1157.8 1477.0 1157.8 C1477.8 1157.8 1478.7 1157.9 1479.5 1157.9 C1480.3 1158.0 1481.2 1158.0 1482.0 1158.1 C1482.8 1158.1 1483.7 1158.2 1484.5 1158.2 C1485.3 1158.2 1486.2 1158.3 1487.0 1158.3 C1487.8 1158.4 1488.7 1158.4 1489.5 1158.5 C1490.3 1158.5 1491.2 1158.6 1492.0 1158.6 C1492.8 1158.6 1493.7 1158.7 1494.5 1158.7 C1495.3 1158.8 1496.2 1158.8 1497.0 1158.9 C1497.8 1158.9 1498.7 1159.0 1499.5 1159.0 C1500.3 1159.1 1501.2 1159.1 1502.0 1159.1 C1502.8 1159.2 1503.7 1159.2 1504.5 1159.3 C1505.3 1159.3 1506.2 1159.4 1507.0 1159.4 C1507.8 1159.5 1508.7 1159.5 1509.5 1159.6 C1510.3 1159.6 1511.2 1159.6 1512.0 1159.7 C1512.8 1159.7 1513.7 1159.8 1514.5 1159.8 C1515.3 1159.9 1516.2 1159.9 1517.0 1160.0 C1517.8 1160.0 1518.7 1160.1 1519.5 1160.1 C1520.3 1160.1 1521.2 1160.2 1522.0 1160.2 C1522.8 1160.3 1523.7 1160.3 1524.5 1160.4 C1525.3 1160.4 1526.2 1160.5 1527.0 1160.5 C1527.8 1160.6 1528.7 1160.6 1529.5 1160.6 C1530.3 1160.7 1531.3 1160.7 1532.0 1160.8 C1532.7 1160.8 1533.2 1160.9 1533.5 1160.9" fill="none" stroke="#1a66dc" stroke-width="4.5" stroke-linejoin="round"/>
<line x1="736" y1="552.0" x2="888" y2="552.0" stroke="#4f4f4f" stroke-width="5.5"/>
<text transform="translate(899.00,573.50) scale(0.960,1)" textLength="234.75" lengthAdjust="spacing" class="lg">p-GQDs</text>
<line x1="736" y1="634.5" x2="888" y2="634.5" stroke="#f43a3a" stroke-width="5.5"/>
<text transform="translate(899.00,656.00) scale(0.960,1)" textLength="557.96" lengthAdjust="spacing" class="lg">GQDs-200-EDA/1g</text>
<line x1="736" y1="716.0" x2="888" y2="716.0" stroke="#1a66dc" stroke-width="5.5"/>
<text transform="translate(899.00,737.50) scale(0.960,1)" textLength="557.96" lengthAdjust="spacing" class="lg">GQDs-200-EDA/5g</text>
<line x1="736" y1="798.0" x2="888" y2="798.0" stroke="#2ea866" stroke-width="5.5"/>
<text transform="translate(899.00,819.50) scale(0.960,1)" textLength="592.59" lengthAdjust="spacing" class="lg">GQDs-200-EDA/10g</text>
<text transform="translate(346.00,115.00) scale(0.960,1)" textLength="211.33" lengthAdjust="spacing" class="an">240 nm</text>
<text transform="translate(402.00,225.00) scale(0.960,1)" textLength="211.33" lengthAdjust="spacing" class="an">270 nm</text>
<text transform="translate(453.50,281.70) scale(0.960,1)" textLength="211.33" lengthAdjust="spacing" class="an">282 nm</text>
<text transform="translate(555.50,423.20) scale(0.960,1)" textLength="211.33" lengthAdjust="spacing" class="an">279 nm</text>
<line x1="346.5" y1="100.3" x2="252.3" y2="213.1" class="ar"/><polygon points="238.8,229.2 248.8,206.3 253.0,212.3 259.6,215.3" fill="#000"/>
<line x1="353.0" y1="101.0" x2="257.7" y2="297.1" class="ar"/><polygon points="248.5,316.0 252.7,291.4 258.2,296.1 265.3,297.5" fill="#000"/>
<line x1="348.0" y1="100.5" x2="254.9" y2="287.2" class="ar"/><polygon points="245.5,306.0 249.9,281.4 255.4,286.2 262.5,287.6" fill="#000"/>
<line x1="352.7" y1="118.9" x2="256.7" y2="345.7" class="ar"/><polygon points="248.5,365.0 251.4,340.2 257.1,344.7 264.3,345.6" fill="#000"/>
<line x1="402.7" y1="225.0" x2="328.3" y2="301.7" class="ar"/><polygon points="313.7,316.8 325.4,294.7 329.1,300.9 335.4,304.4" fill="#000"/>
<line x1="456.0" y1="288.0" x2="357.2" y2="388.5" class="ar"/><polygon points="342.5,403.5 354.3,381.5 358.0,387.8 364.3,391.3" fill="#000"/>
<line x1="562.0" y1="397.0" x2="362.4" y2="494.3" class="ar"/><polygon points="341.7,504.4 362.0,486.7 363.2,493.9 368.1,499.3" fill="#000"/>
<line x1="562.0" y1="399.0" x2="350.3" y2="511.5" class="ar"/><polygon points="330.0,522.3 349.7,503.9 351.1,511.1 356.2,516.3" fill="#000"/>
</svg>
</body></html>
